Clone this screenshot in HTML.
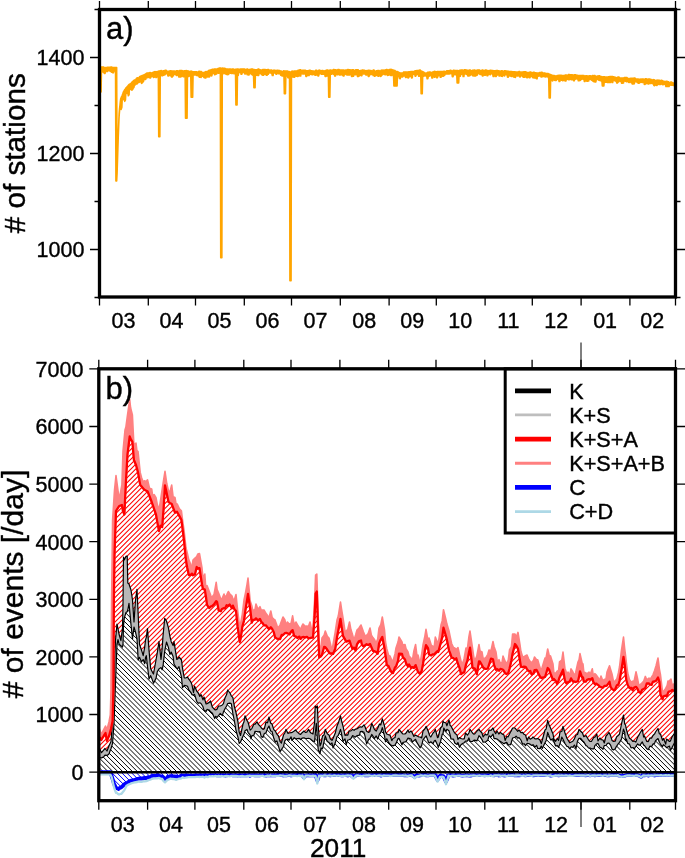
<!DOCTYPE html>
<html><head><meta charset="utf-8"><title>chart</title><style>html,body{margin:0;padding:0;background:#fff}svg{display:block}svg text{font-family:"Liberation Sans",sans-serif;stroke:#000;stroke-width:0.4px}</style></head><body>
<svg width="685" height="858" viewBox="0 0 685 858" stroke-linecap="butt">
<defs>
<clipPath id="ca"><rect x="99.5" y="9.5" width="576.0" height="287.5"/></clipPath>
<clipPath id="cb"><rect x="98.8" y="368.8" width="576.7" height="431.9"/></clipPath>
</defs>
<rect width="685" height="858" fill="#fff"/>
<g clip-path="url(#ca)"><path d="M99.5 67.7 L99.9 67.7 L100.3 67.7 L100.7 67.7 L101.1 67.0 L101.5 67.0 L101.9 67.0 L102.3 67.0 L102.7 67.1 L103.1 67.1 L103.5 67.1 L103.9 67.1 L104.3 67.8 L104.7 67.8 L105.1 67.8 L105.5 67.8 L105.9 67.4 L106.3 67.4 L106.7 67.4 L107.1 67.4 L107.5 67.2 L107.9 67.2 L108.3 67.2 L108.7 67.2 L109.1 67.3 L109.5 67.3 L109.9 67.3 L110.3 67.3 L110.7 67.1 L111.1 67.1 L111.5 67.1 L111.9 67.1 L112.3 67.4 L112.7 67.4 L113.1 67.4 L113.5 67.4 L113.9 67.5 L114.3 67.5 L114.7 67.5 L115.1 67.6 L115.5 67.5 L115.9 67.5 L116.3 67.5 L116.7 67.5 L117.1 170.5 L117.5 158.5 L117.9 146.0 L118.3 133.5 L118.7 123.7 L119.1 113.9 L119.5 108.9 L119.9 105.5 L120.3 101.5 L120.7 98.7 L121.1 97.7 L121.5 96.7 L121.9 96.0 L122.3 95.0 L122.7 94.0 L123.1 93.1 L123.5 91.6 L123.9 90.9 L124.3 90.3 L124.7 89.6 L125.1 89.3 L125.5 88.6 L125.9 88.0 L126.3 87.5 L126.7 87.2 L127.1 86.8 L127.5 86.4 L127.9 86.0 L128.3 85.3 L128.7 84.9 L129.1 84.5 L129.5 84.1 L129.9 84.4 L130.3 84.0 L130.7 83.7 L131.1 83.3 L131.5 82.5 L131.9 82.1 L132.3 81.8 L132.7 81.4 L133.1 81.1 L133.5 80.7 L133.9 80.4 L134.3 80.1 L134.7 80.3 L135.1 80.0 L135.5 79.8 L135.9 79.6 L136.3 78.4 L136.7 78.2 L137.1 78.0 L137.5 77.7 L137.9 78.3 L138.3 78.1 L138.7 77.8 L139.1 77.6 L139.5 76.7 L139.9 76.5 L140.3 76.3 L140.7 76.1 L141.1 76.1 L141.5 75.9 L141.9 75.7 L142.3 75.5 L142.7 75.4 L143.1 75.2 L143.5 75.1 L143.9 74.9 L144.3 74.7 L144.7 74.5 L145.1 74.3 L145.5 74.2 L145.9 73.6 L146.3 73.4 L146.7 73.2 L147.1 73.0 L147.5 73.1 L147.9 73.0 L148.3 72.9 L148.7 72.9 L149.1 72.8 L149.5 72.7 L149.9 72.6 L150.3 72.5 L150.7 73.0 L151.1 73.0 L151.5 72.9 L151.9 72.8 L152.3 72.6 L152.7 72.5 L153.1 72.4 L153.5 72.3 L153.9 71.9 L154.3 71.8 L154.7 71.7 L155.1 71.6 L155.5 71.9 L155.9 71.8 L156.3 71.7 L156.7 71.7 L157.1 71.6 L157.5 71.6 L157.9 71.6 L158.3 71.5 L158.7 71.0 L159.1 71.0 L159.5 71.0 L159.9 71.0 L160.3 70.7 L160.7 70.7 L161.1 70.6 L161.5 70.6 L161.9 71.1 L162.3 71.1 L162.7 71.0 L163.1 71.0 L163.5 70.7 L163.9 70.7 L164.3 70.7 L164.7 70.6 L165.1 70.3 L165.5 70.3 L165.9 70.3 L166.3 70.3 L166.7 71.3 L167.1 71.3 L167.5 71.3 L167.9 71.3 L168.3 71.3 L168.7 71.3 L169.1 71.3 L169.5 71.3 L169.9 70.8 L170.3 70.8 L170.7 70.8 L171.1 70.8 L171.5 70.9 L171.9 70.9 L172.3 70.9 L172.7 70.9 L173.1 71.0 L173.5 71.0 L173.9 71.0 L174.3 71.0 L174.7 71.2 L175.1 71.2 L175.5 71.2 L175.9 71.2 L176.3 70.8 L176.7 70.8 L177.1 70.8 L177.5 70.8 L177.9 70.9 L178.3 70.9 L178.7 70.9 L179.1 70.9 L179.5 70.5 L179.9 70.5 L180.3 70.5 L180.7 70.6 L181.1 70.6 L181.5 70.6 L181.9 70.6 L182.3 70.7 L182.7 71.0 L183.1 71.0 L183.5 71.0 L183.9 71.0 L184.3 70.7 L184.7 70.8 L185.1 70.8 L185.5 70.8 L185.9 70.6 L186.3 70.6 L186.7 70.7 L187.1 70.7 L187.5 71.0 L187.9 71.1 L188.3 71.1 L188.7 71.1 L189.1 71.5 L189.5 71.5 L189.9 71.5 L190.3 71.6 L190.7 71.1 L191.1 71.1 L191.5 71.2 L191.9 71.2 L192.3 71.8 L192.7 71.8 L193.1 71.8 L193.5 71.8 L193.9 71.7 L194.3 71.7 L194.7 71.7 L195.1 71.8 L195.5 71.7 L195.9 71.7 L196.3 71.8 L196.7 71.8 L197.1 72.0 L197.5 72.1 L197.9 72.1 L198.3 72.1 L198.7 71.3 L199.1 71.3 L199.5 71.3 L199.9 71.4 L200.3 71.5 L200.7 71.5 L201.1 71.6 L201.5 71.6 L201.9 72.4 L202.3 72.4 L202.7 72.5 L203.1 72.5 L203.5 72.6 L203.9 72.6 L204.3 72.6 L204.7 72.7 L205.1 71.8 L205.5 71.7 L205.9 71.6 L206.3 71.4 L206.7 72.0 L207.1 71.8 L207.5 71.7 L207.9 71.5 L208.3 70.6 L208.7 70.5 L209.1 70.4 L209.5 70.2 L209.9 70.2 L210.3 70.0 L210.7 69.9 L211.1 69.8 L211.5 69.6 L211.9 69.4 L212.3 69.3 L212.7 69.3 L213.1 69.4 L213.5 69.3 L213.9 69.2 L214.3 69.1 L214.7 69.1 L215.1 69.0 L215.5 68.9 L215.9 68.9 L216.3 69.3 L216.7 69.2 L217.1 69.1 L217.5 69.0 L217.9 68.5 L218.3 68.4 L218.7 68.3 L219.1 68.2 L219.5 68.0 L219.9 68.0 L220.3 68.0 L220.7 68.1 L221.1 68.3 L221.5 68.3 L221.9 68.3 L222.3 68.4 L222.7 68.1 L223.1 68.2 L223.5 68.2 L223.9 68.3 L224.3 68.3 L224.7 68.3 L225.1 68.4 L225.5 68.4 L225.9 68.9 L226.3 68.9 L226.7 68.9 L227.1 69.0 L227.5 69.1 L227.9 69.1 L228.3 69.2 L228.7 69.2 L229.1 69.0 L229.5 69.0 L229.9 69.0 L230.3 69.0 L230.7 69.2 L231.1 69.2 L231.5 69.2 L231.9 69.2 L232.3 68.9 L232.7 68.9 L233.1 68.9 L233.5 68.9 L233.9 69.5 L234.3 69.5 L234.7 69.5 L235.1 69.5 L235.5 69.2 L235.9 69.2 L236.3 69.2 L236.7 69.2 L237.1 69.0 L237.5 69.0 L237.9 69.0 L238.3 69.0 L238.7 69.3 L239.1 69.3 L239.5 69.3 L239.9 69.3 L240.3 69.0 L240.7 69.0 L241.1 69.0 L241.5 69.0 L241.9 69.1 L242.3 69.1 L242.7 69.1 L243.1 69.1 L243.5 68.9 L243.9 68.9 L244.3 68.9 L244.7 68.9 L245.1 69.6 L245.5 69.6 L245.9 69.6 L246.3 69.6 L246.7 69.1 L247.1 69.1 L247.5 69.1 L247.9 69.1 L248.3 69.8 L248.7 69.8 L249.1 69.8 L249.5 69.8 L249.9 69.2 L250.3 69.2 L250.7 69.2 L251.1 69.2 L251.5 69.0 L251.9 69.0 L252.3 69.0 L252.7 69.0 L253.1 69.6 L253.5 69.6 L253.9 69.6 L254.3 69.6 L254.7 69.7 L255.1 69.7 L255.5 69.7 L255.9 69.7 L256.3 69.8 L256.7 69.8 L257.1 69.9 L257.5 69.9 L257.9 69.1 L258.3 69.1 L258.7 69.1 L259.1 69.2 L259.5 69.8 L259.9 69.8 L260.3 69.8 L260.7 69.9 L261.1 69.9 L261.5 69.9 L261.9 70.0 L262.3 70.0 L262.7 69.4 L263.1 69.4 L263.5 69.4 L263.9 69.5 L264.3 69.6 L264.7 69.6 L265.1 69.6 L265.5 69.6 L265.9 69.8 L266.3 69.8 L266.7 69.8 L267.1 69.8 L267.5 69.5 L267.9 69.5 L268.3 69.5 L268.7 69.5 L269.1 70.1 L269.5 70.2 L269.9 70.2 L270.3 70.2 L270.7 70.1 L271.1 70.1 L271.5 70.1 L271.9 70.2 L272.3 70.4 L272.7 70.4 L273.1 70.5 L273.5 70.5 L273.9 70.1 L274.3 70.2 L274.7 70.2 L275.1 70.3 L275.5 70.4 L275.9 70.4 L276.3 70.4 L276.7 70.5 L277.1 70.2 L277.5 70.2 L277.9 70.3 L278.3 70.3 L278.7 70.5 L279.1 70.5 L279.5 70.6 L279.9 70.6 L280.3 71.1 L280.7 71.1 L281.1 71.1 L281.5 71.2 L281.9 71.4 L282.3 71.5 L282.7 71.5 L283.1 71.6 L283.5 70.8 L283.9 70.8 L284.3 70.9 L284.7 70.9 L285.1 70.9 L285.5 70.9 L285.9 70.9 L286.3 71.0 L286.7 71.0 L287.1 71.1 L287.5 71.1 L287.9 71.2 L288.3 71.6 L288.7 71.6 L289.1 71.6 L289.5 71.7 L289.9 72.1 L290.3 72.0 L290.7 72.0 L291.1 71.9 L291.5 71.3 L291.9 71.2 L292.3 71.2 L292.7 71.1 L293.1 71.3 L293.5 71.3 L293.9 71.2 L294.3 71.1 L294.7 71.1 L295.1 71.1 L295.5 71.0 L295.9 70.9 L296.3 71.2 L296.7 71.1 L297.1 71.1 L297.5 71.0 L297.9 70.3 L298.3 70.2 L298.7 70.2 L299.1 70.1 L299.5 69.9 L299.9 69.8 L300.3 69.8 L300.7 69.8 L301.1 70.3 L301.5 70.4 L301.9 70.4 L302.3 70.4 L302.7 70.2 L303.1 70.3 L303.5 70.3 L303.9 70.3 L304.3 70.2 L304.7 70.2 L305.1 70.3 L305.5 70.3 L305.9 70.8 L306.3 70.8 L306.7 70.8 L307.1 70.8 L307.5 70.7 L307.9 70.7 L308.3 70.8 L308.7 70.8 L309.1 70.2 L309.5 70.2 L309.9 70.2 L310.3 70.2 L310.7 70.7 L311.1 70.7 L311.5 70.7 L311.9 70.7 L312.3 71.0 L312.7 71.0 L313.1 71.0 L313.5 71.0 L313.9 71.2 L314.3 71.2 L314.7 71.2 L315.1 71.2 L315.5 70.3 L315.9 70.3 L316.3 70.2 L316.7 70.2 L317.1 71.0 L317.5 71.0 L317.9 71.0 L318.3 71.0 L318.7 70.2 L319.1 70.2 L319.5 70.2 L319.9 70.1 L320.3 70.8 L320.7 70.8 L321.1 70.7 L321.5 70.7 L321.9 70.6 L322.3 70.6 L322.7 70.6 L323.1 70.6 L323.5 70.9 L323.9 70.9 L324.3 70.9 L324.7 70.9 L325.1 70.5 L325.5 70.5 L325.9 70.5 L326.3 70.5 L326.7 69.9 L327.1 69.9 L327.5 69.9 L327.9 69.9 L328.3 70.4 L328.7 70.4 L329.1 70.4 L329.5 70.4 L329.9 70.0 L330.3 69.9 L330.7 69.9 L331.1 69.9 L331.5 70.5 L331.9 70.5 L332.3 70.4 L332.7 70.4 L333.1 69.6 L333.5 69.6 L333.9 69.6 L334.3 69.6 L334.7 69.8 L335.1 69.8 L335.5 69.8 L335.9 69.8 L336.3 70.1 L336.7 70.1 L337.1 70.1 L337.5 70.1 L337.9 69.5 L338.3 69.5 L338.7 69.5 L339.1 69.5 L339.5 70.0 L339.9 70.0 L340.3 70.0 L340.7 70.0 L341.1 70.0 L341.5 70.0 L341.9 70.0 L342.3 70.1 L342.7 70.1 L343.1 70.1 L343.5 70.1 L343.9 70.1 L344.3 70.3 L344.7 70.3 L345.1 70.3 L345.5 70.3 L345.9 69.9 L346.3 69.9 L346.7 69.9 L347.1 69.9 L347.5 69.6 L347.9 69.6 L348.3 69.6 L348.7 69.7 L349.1 69.8 L349.5 69.8 L349.9 69.8 L350.3 69.8 L350.7 70.0 L351.1 70.0 L351.5 70.0 L351.9 70.0 L352.3 69.7 L352.7 69.7 L353.1 69.7 L353.5 69.7 L353.9 70.4 L354.3 70.4 L354.7 70.4 L355.1 70.4 L355.5 69.8 L355.9 69.8 L356.3 69.8 L356.7 69.8 L357.1 69.8 L357.5 69.8 L357.9 69.8 L358.3 69.8 L358.7 70.7 L359.1 70.7 L359.5 70.7 L359.9 70.7 L360.3 70.6 L360.7 70.6 L361.1 70.6 L361.5 70.6 L361.9 70.1 L362.3 70.1 L362.7 70.1 L363.1 70.1 L363.5 70.2 L363.9 70.2 L364.3 70.2 L364.7 70.3 L365.1 70.8 L365.5 70.8 L365.9 70.8 L366.3 70.8 L366.7 70.6 L367.1 70.6 L367.5 70.6 L367.9 70.6 L368.3 70.3 L368.7 70.3 L369.1 70.3 L369.5 70.3 L369.9 70.5 L370.3 70.5 L370.7 70.5 L371.1 70.5 L371.5 70.9 L371.9 71.0 L372.3 71.0 L372.7 71.0 L373.1 70.1 L373.5 70.1 L373.9 70.1 L374.3 70.2 L374.7 71.2 L375.1 71.2 L375.5 71.2 L375.9 71.2 L376.3 70.8 L376.7 70.8 L377.1 70.8 L377.5 70.8 L377.9 70.4 L378.3 70.4 L378.7 70.4 L379.1 70.5 L379.5 71.1 L379.9 71.1 L380.3 71.1 L380.7 71.0 L381.1 70.2 L381.5 70.2 L381.9 70.1 L382.3 70.0 L382.7 70.3 L383.1 70.2 L383.5 70.2 L383.9 70.1 L384.3 70.2 L384.7 70.2 L385.1 70.1 L385.5 70.0 L385.9 69.7 L386.3 69.6 L386.7 69.5 L387.1 69.5 L387.5 70.1 L387.9 70.0 L388.3 69.9 L388.7 69.9 L389.1 69.6 L389.5 69.6 L389.9 69.5 L390.3 69.6 L390.7 69.2 L391.1 69.3 L391.5 69.5 L391.9 69.6 L392.3 69.8 L392.7 69.9 L393.1 70.0 L393.5 70.2 L393.9 70.2 L394.3 70.4 L394.7 70.5 L395.1 70.6 L395.5 71.3 L395.9 71.4 L396.3 71.6 L396.7 71.7 L397.1 71.5 L397.5 71.6 L397.9 71.8 L398.3 71.9 L398.7 72.4 L399.1 72.5 L399.5 72.7 L399.9 72.8 L400.3 73.1 L400.7 73.0 L401.1 73.0 L401.5 73.0 L401.9 73.0 L402.3 72.9 L402.7 72.9 L403.1 72.9 L403.5 72.1 L403.9 72.0 L404.3 72.0 L404.7 71.9 L405.1 72.1 L405.5 72.1 L405.9 72.0 L406.3 72.0 L406.7 72.0 L407.1 72.0 L407.5 72.0 L407.9 71.9 L408.3 71.9 L408.7 71.8 L409.1 71.8 L409.5 71.7 L409.9 71.7 L410.3 71.7 L410.7 71.6 L411.1 71.6 L411.5 71.5 L411.9 71.5 L412.3 71.4 L412.7 71.4 L413.1 71.6 L413.5 71.5 L413.9 71.5 L414.3 71.4 L414.7 70.9 L415.1 70.8 L415.5 70.8 L415.9 70.7 L416.3 70.7 L416.7 70.6 L417.1 70.6 L417.5 70.5 L417.9 70.5 L418.3 70.4 L418.7 70.4 L419.1 70.3 L419.5 70.0 L419.9 70.0 L420.3 70.1 L420.7 70.3 L421.1 71.0 L421.5 71.2 L421.9 71.4 L422.3 71.6 L422.7 71.6 L423.1 71.8 L423.5 72.0 L423.9 72.2 L424.3 72.9 L424.7 73.1 L425.1 73.2 L425.5 73.2 L425.9 73.0 L426.3 73.0 L426.7 73.0 L427.1 72.9 L427.5 72.3 L427.9 72.2 L428.3 72.2 L428.7 72.2 L429.1 72.1 L429.5 72.1 L429.9 72.1 L430.3 72.0 L430.7 72.5 L431.1 72.5 L431.5 72.4 L431.9 72.4 L432.3 72.1 L432.7 72.1 L433.1 72.0 L433.5 72.0 L433.9 71.4 L434.3 71.4 L434.7 71.3 L435.1 71.3 L435.5 71.9 L435.9 71.8 L436.3 71.8 L436.7 71.8 L437.1 71.5 L437.5 71.4 L437.9 71.4 L438.3 71.4 L438.7 71.7 L439.1 71.7 L439.5 71.6 L439.9 71.6 L440.3 71.5 L440.7 71.5 L441.1 71.5 L441.5 71.5 L441.9 71.6 L442.3 71.6 L442.7 71.6 L443.1 71.6 L443.5 71.3 L443.9 71.3 L444.3 71.3 L444.7 71.3 L445.1 71.5 L445.5 71.4 L445.9 71.4 L446.3 71.4 L446.7 70.7 L447.1 70.7 L447.5 70.7 L447.9 70.7 L448.3 70.7 L448.7 70.7 L449.1 70.7 L449.5 70.7 L449.9 70.4 L450.3 70.3 L450.7 70.3 L451.1 70.3 L451.5 71.1 L451.9 71.1 L452.3 71.1 L452.7 71.0 L453.1 70.3 L453.5 70.3 L453.9 70.3 L454.3 70.2 L454.7 70.6 L455.1 70.6 L455.5 70.6 L455.9 70.6 L456.3 70.5 L456.7 70.5 L457.1 70.5 L457.5 70.4 L457.9 70.7 L458.3 70.7 L458.7 70.7 L459.1 70.7 L459.5 70.2 L459.9 70.2 L460.3 70.2 L460.7 70.2 L461.1 69.9 L461.5 69.9 L461.9 69.9 L462.3 69.9 L462.7 70.2 L463.1 70.2 L463.5 70.2 L463.9 70.2 L464.3 69.8 L464.7 69.8 L465.1 69.8 L465.5 69.8 L465.9 70.1 L466.3 70.1 L466.7 70.1 L467.1 70.1 L467.5 70.4 L467.9 70.4 L468.3 70.4 L468.7 70.4 L469.1 69.9 L469.5 69.9 L469.9 69.9 L470.3 69.9 L470.7 70.8 L471.1 70.8 L471.5 70.8 L471.9 70.8 L472.3 70.3 L472.7 70.3 L473.1 70.3 L473.5 70.3 L473.9 70.1 L474.3 70.1 L474.7 70.1 L475.1 70.1 L475.5 70.6 L475.9 70.6 L476.3 70.6 L476.7 70.6 L477.1 69.9 L477.5 69.9 L477.9 69.9 L478.3 69.9 L478.7 70.1 L479.1 70.1 L479.5 70.1 L479.9 70.1 L480.3 70.7 L480.7 70.8 L481.1 70.8 L481.5 70.8 L481.9 70.1 L482.3 70.1 L482.7 70.1 L483.1 70.1 L483.5 70.6 L483.9 70.6 L484.3 70.6 L484.7 70.7 L485.1 70.0 L485.5 70.0 L485.9 70.0 L486.3 70.0 L486.7 70.5 L487.1 70.5 L487.5 70.5 L487.9 70.5 L488.3 70.7 L488.7 70.7 L489.1 70.7 L489.5 70.7 L489.9 70.3 L490.3 70.3 L490.7 70.3 L491.1 70.3 L491.5 70.4 L491.9 70.4 L492.3 70.4 L492.7 70.4 L493.1 70.7 L493.5 70.7 L493.9 70.7 L494.3 70.7 L494.7 70.8 L495.1 70.8 L495.5 70.8 L495.9 70.8 L496.3 70.4 L496.7 70.4 L497.1 70.4 L497.5 70.4 L497.9 70.7 L498.3 70.7 L498.7 70.7 L499.1 70.7 L499.5 71.3 L499.9 71.3 L500.3 71.3 L500.7 71.3 L501.1 70.7 L501.5 70.7 L501.9 70.7 L502.3 70.7 L502.7 71.2 L503.1 71.2 L503.5 71.3 L503.9 71.3 L504.3 70.7 L504.7 70.7 L505.1 70.8 L505.5 70.8 L505.9 71.1 L506.3 71.1 L506.7 71.1 L507.1 71.1 L507.5 71.2 L507.9 71.2 L508.3 71.2 L508.7 71.3 L509.1 71.4 L509.5 71.4 L509.9 71.4 L510.3 71.4 L510.7 71.6 L511.1 71.6 L511.5 71.6 L511.9 71.6 L512.3 71.7 L512.7 71.7 L513.1 71.8 L513.5 71.8 L513.9 71.7 L514.3 71.7 L514.7 71.7 L515.1 71.8 L515.5 71.9 L515.9 71.9 L516.3 71.9 L516.7 71.9 L517.1 72.0 L517.5 72.1 L517.9 72.1 L518.3 72.1 L518.7 71.6 L519.1 71.6 L519.5 71.6 L519.9 71.6 L520.3 72.1 L520.7 72.2 L521.1 72.2 L521.5 72.2 L521.9 71.9 L522.3 72.0 L522.7 72.0 L523.1 72.0 L523.5 71.8 L523.9 71.8 L524.3 71.8 L524.7 71.9 L525.1 71.8 L525.5 71.8 L525.9 71.9 L526.3 71.9 L526.7 72.5 L527.1 72.5 L527.5 72.6 L527.9 72.6 L528.3 72.5 L528.7 72.5 L529.1 72.5 L529.5 72.6 L529.9 72.0 L530.3 72.1 L530.7 72.1 L531.1 72.1 L531.5 72.7 L531.9 72.7 L532.3 72.7 L532.7 72.7 L533.1 72.2 L533.5 72.2 L533.9 72.3 L534.3 72.3 L534.7 72.7 L535.1 72.7 L535.5 72.7 L535.9 72.7 L536.3 72.9 L536.7 72.9 L537.1 72.9 L537.5 72.9 L537.9 73.0 L538.3 73.0 L538.7 73.0 L539.1 73.0 L539.5 72.5 L539.9 72.5 L540.3 72.5 L540.7 72.5 L541.1 72.3 L541.5 72.3 L541.9 72.3 L542.3 72.3 L542.7 72.9 L543.1 72.9 L543.5 72.9 L543.9 72.9 L544.3 73.1 L544.7 73.1 L545.1 73.1 L545.5 73.3 L545.9 73.4 L546.3 73.5 L546.7 73.6 L547.1 73.7 L547.5 73.4 L547.9 73.5 L548.3 73.6 L548.7 73.8 L549.1 74.1 L549.5 74.2 L549.9 74.3 L550.3 74.5 L550.7 74.7 L551.1 74.8 L551.5 75.0 L551.9 75.1 L552.3 75.4 L552.7 75.5 L553.1 75.6 L553.5 75.7 L553.9 75.5 L554.3 75.6 L554.7 75.7 L555.1 75.8 L555.5 76.1 L555.9 76.1 L556.3 76.1 L556.7 76.1 L557.1 75.5 L557.5 75.5 L557.9 75.4 L558.3 75.4 L558.7 75.3 L559.1 75.2 L559.5 75.2 L559.9 75.2 L560.3 75.2 L560.7 75.2 L561.1 75.2 L561.5 75.2 L561.9 75.6 L562.3 75.5 L562.7 75.5 L563.1 75.5 L563.5 75.6 L563.9 75.6 L564.3 75.6 L564.7 75.5 L565.1 75.1 L565.5 75.1 L565.9 75.0 L566.3 75.0 L566.7 75.2 L567.1 75.2 L567.5 75.2 L567.9 75.1 L568.3 74.6 L568.7 74.5 L569.1 74.5 L569.5 74.5 L569.9 74.8 L570.3 74.8 L570.7 74.8 L571.1 74.9 L571.5 74.8 L571.9 74.8 L572.3 74.8 L572.7 74.9 L573.1 74.9 L573.5 74.9 L573.9 74.9 L574.3 74.9 L574.7 74.7 L575.1 74.7 L575.5 74.8 L575.9 74.8 L576.3 75.2 L576.7 75.3 L577.1 75.3 L577.5 75.3 L577.9 75.4 L578.3 75.4 L578.7 75.4 L579.1 75.4 L579.5 75.4 L579.9 75.4 L580.3 75.5 L580.7 75.5 L581.1 75.6 L581.5 75.6 L581.9 75.6 L582.3 75.7 L582.7 75.4 L583.1 75.4 L583.5 75.4 L583.9 75.5 L584.3 75.9 L584.7 75.9 L585.1 75.9 L585.5 75.9 L585.9 75.7 L586.3 75.7 L586.7 75.7 L587.1 75.7 L587.5 76.1 L587.9 76.1 L588.3 76.1 L588.7 76.1 L589.1 75.7 L589.5 75.7 L589.9 75.7 L590.3 75.7 L590.7 76.0 L591.1 76.1 L591.5 76.1 L591.9 76.1 L592.3 75.6 L592.7 75.6 L593.1 75.7 L593.5 75.7 L593.9 75.6 L594.3 75.6 L594.7 75.6 L595.1 75.6 L595.5 76.5 L595.9 76.5 L596.3 76.5 L596.7 76.6 L597.1 76.0 L597.5 76.0 L597.9 76.1 L598.3 76.1 L598.7 75.8 L599.1 75.8 L599.5 75.8 L599.9 75.8 L600.3 76.4 L600.7 76.5 L601.1 76.5 L601.5 76.5 L601.9 76.8 L602.3 76.8 L602.7 76.9 L603.1 76.9 L603.5 76.7 L603.9 76.8 L604.3 76.8 L604.7 76.8 L605.1 77.0 L605.5 77.1 L605.9 77.1 L606.3 77.1 L606.7 77.1 L607.1 77.1 L607.5 77.1 L607.9 77.1 L608.3 76.7 L608.7 76.7 L609.1 76.7 L609.5 76.7 L609.9 76.5 L610.3 76.6 L610.7 76.6 L611.1 76.6 L611.5 76.5 L611.9 76.5 L612.3 76.5 L612.7 76.6 L613.1 76.8 L613.5 76.8 L613.9 76.9 L614.3 76.9 L614.7 77.3 L615.1 77.3 L615.5 77.3 L615.9 77.4 L616.3 77.7 L616.7 77.7 L617.1 77.7 L617.5 77.8 L617.9 76.9 L618.3 76.9 L618.7 77.0 L619.1 77.0 L619.5 77.8 L619.9 77.9 L620.3 77.9 L620.7 77.9 L621.1 77.9 L621.5 77.9 L621.9 78.0 L622.3 78.0 L622.7 77.9 L623.1 78.0 L623.5 78.0 L623.9 78.0 L624.3 77.5 L624.7 77.5 L625.1 77.6 L625.5 77.6 L625.9 77.5 L626.3 77.6 L626.7 77.6 L627.1 77.6 L627.5 78.3 L627.9 78.4 L628.3 78.4 L628.7 78.4 L629.1 78.4 L629.5 78.4 L629.9 78.4 L630.3 78.5 L630.7 78.2 L631.1 78.2 L631.5 78.2 L631.9 78.3 L632.3 78.3 L632.7 78.3 L633.1 78.3 L633.5 78.3 L633.9 78.0 L634.3 78.0 L634.7 78.1 L635.1 78.1 L635.5 79.1 L635.9 79.1 L636.3 79.1 L636.7 79.1 L637.1 79.0 L637.5 79.0 L637.9 79.0 L638.3 79.1 L638.7 79.2 L639.1 79.2 L639.5 79.2 L639.9 79.3 L640.3 79.1 L640.7 79.2 L641.1 79.2 L641.5 79.2 L641.9 78.9 L642.3 78.9 L642.7 78.9 L643.1 78.9 L643.5 79.3 L643.9 79.3 L644.3 79.4 L644.7 79.4 L645.1 78.8 L645.5 78.8 L645.9 78.8 L646.3 78.8 L646.7 79.3 L647.1 79.3 L647.5 79.3 L647.9 79.4 L648.3 79.0 L648.7 79.0 L649.1 79.0 L649.5 79.0 L649.9 79.2 L650.3 79.2 L650.7 79.3 L651.1 79.3 L651.5 79.9 L651.9 79.9 L652.3 80.0 L652.7 80.0 L653.1 79.6 L653.5 79.7 L653.9 79.7 L654.3 79.8 L654.7 80.3 L655.1 80.4 L655.5 80.4 L655.9 80.5 L656.3 80.2 L656.7 80.3 L657.1 80.3 L657.5 80.4 L657.9 80.1 L658.3 80.2 L658.7 80.3 L659.1 80.3 L659.5 80.3 L659.9 80.4 L660.3 80.4 L660.7 80.5 L661.1 80.3 L661.5 80.3 L661.9 80.4 L662.3 80.4 L662.7 81.1 L663.1 81.1 L663.5 81.2 L663.9 81.2 L664.3 81.5 L664.7 81.6 L665.1 81.7 L665.5 81.7 L665.9 81.2 L666.3 81.2 L666.7 81.3 L667.1 81.3 L667.5 81.6 L667.9 81.7 L668.3 81.8 L668.7 81.8 L669.1 82.4 L669.5 82.4 L669.9 82.5 L670.3 82.5 L670.7 82.0 L671.1 82.1 L671.5 82.1 L671.9 82.2 L672.3 82.8 L672.7 82.8 L673.1 82.9 L673.5 83.0 L673.9 82.9 L674.3 83.0 L674.7 83.0 L675.1 83.1 L675.5 82.8 L675.5 88.4 L675.1 85.7 L674.7 85.6 L674.3 85.6 L673.9 85.5 L673.5 85.5 L673.1 85.4 L672.7 85.2 L672.3 85.2 L671.9 85.1 L671.5 85.3 L671.1 85.3 L670.7 85.2 L670.3 85.0 L669.9 84.9 L669.5 84.9 L669.1 86.6 L668.7 86.5 L668.3 86.5 L667.9 86.4 L667.5 86.3 L667.1 86.2 L666.7 86.6 L666.3 86.5 L665.9 86.5 L665.5 84.6 L665.1 84.6 L664.7 84.5 L664.3 84.1 L663.9 84.1 L663.5 84.0 L663.1 84.8 L662.7 84.7 L662.3 84.6 L661.9 83.8 L661.5 83.8 L661.1 83.7 L660.7 84.4 L660.3 84.3 L659.9 84.2 L659.5 84.6 L659.1 84.6 L658.7 84.5 L658.3 83.4 L657.9 83.4 L657.5 83.3 L657.1 85.4 L656.7 85.4 L656.3 85.3 L655.9 85.1 L655.5 85.1 L655.1 85.0 L654.7 85.7 L654.3 85.7 L653.9 85.6 L653.5 83.8 L653.1 83.7 L652.7 83.7 L652.3 83.2 L651.9 83.2 L651.5 83.1 L651.1 83.6 L650.7 83.5 L650.3 83.5 L649.9 83.4 L649.5 83.4 L649.1 83.4 L648.7 84.0 L648.3 83.9 L647.9 83.9 L647.5 82.9 L647.1 82.9 L646.7 82.9 L646.3 83.8 L645.9 83.8 L645.5 83.8 L645.1 84.4 L644.7 84.4 L644.3 84.3 L643.9 82.2 L643.5 82.2 L643.1 82.1 L642.7 82.5 L642.3 82.5 L641.9 82.5 L641.5 82.2 L641.1 82.2 L640.7 82.1 L640.3 82.5 L639.9 82.5 L639.5 82.5 L639.1 83.3 L638.7 83.3 L638.3 83.3 L637.9 82.5 L637.5 82.5 L637.1 82.4 L636.7 81.8 L636.3 81.8 L635.9 81.8 L635.5 81.5 L635.1 81.5 L634.7 81.5 L634.3 83.8 L633.9 83.8 L633.5 83.8 L633.1 84.1 L632.7 84.1 L632.3 84.1 L631.9 82.7 L631.5 82.7 L631.1 82.7 L630.7 81.6 L630.3 81.6 L629.9 81.5 L629.5 82.5 L629.1 82.5 L628.7 82.5 L628.3 81.4 L627.9 81.4 L627.5 81.3 L627.1 81.7 L626.7 81.7 L626.3 81.7 L625.9 81.3 L625.5 81.3 L625.1 81.2 L624.7 80.9 L624.3 80.9 L623.9 80.9 L623.5 83.0 L623.1 83.0 L622.7 83.0 L622.3 83.3 L621.9 83.2 L621.5 83.2 L621.1 81.3 L620.7 81.3 L620.3 81.2 L619.9 81.1 L619.5 81.1 L619.1 81.1 L618.7 81.9 L618.3 81.8 L617.9 81.8 L617.5 83.1 L617.1 83.1 L616.7 83.0 L616.3 81.2 L615.9 81.2 L615.5 81.1 L615.1 80.7 L614.7 80.7 L614.3 80.6 L613.9 80.5 L613.5 80.4 L613.1 80.4 L612.7 82.6 L612.3 82.6 L611.9 82.5 L611.5 79.8 L611.1 79.7 L610.7 79.7 L610.3 82.6 L609.9 82.6 L609.5 82.6 L609.1 82.4 L608.7 82.4 L608.3 82.3 L607.9 82.4 L607.5 82.4 L607.1 82.4 L606.7 82.2 L606.3 82.2 L605.9 82.2 L605.5 82.2 L605.1 82.2 L604.7 82.2 L604.3 81.1 L603.9 86.0 L603.5 86.0 L603.1 86.0 L602.7 86.0 L602.3 86.0 L601.9 81.0 L601.5 81.0 L601.1 81.0 L600.7 80.6 L600.3 80.6 L599.9 80.6 L599.5 80.3 L599.1 80.3 L598.7 80.3 L598.3 79.4 L597.9 79.4 L597.5 79.3 L597.1 79.6 L596.7 79.5 L596.3 79.5 L595.9 82.0 L595.5 82.0 L595.1 82.0 L594.7 81.8 L594.3 81.8 L593.9 81.8 L593.5 81.2 L593.1 81.1 L592.7 81.1 L592.3 80.2 L591.9 80.2 L591.5 80.2 L591.1 79.5 L590.7 79.4 L590.3 79.4 L589.9 79.1 L589.5 79.0 L589.1 79.0 L588.7 81.1 L588.3 81.1 L587.9 81.1 L587.5 81.2 L587.1 81.2 L586.7 81.2 L586.3 78.6 L585.9 78.6 L585.5 78.6 L585.1 81.5 L584.7 81.5 L584.3 81.4 L583.9 79.2 L583.5 79.2 L583.1 79.2 L582.7 79.1 L582.3 79.0 L581.9 79.0 L581.5 79.4 L581.1 79.4 L580.7 79.4 L580.3 80.5 L579.9 80.5 L579.5 80.5 L579.1 80.8 L578.7 80.8 L578.3 80.8 L577.9 79.1 L577.5 79.1 L577.1 79.1 L576.7 78.4 L576.3 78.4 L575.9 78.4 L575.5 79.3 L575.1 79.3 L574.7 79.3 L574.3 80.7 L573.9 80.7 L573.5 80.7 L573.1 78.4 L572.7 78.3 L572.3 78.3 L571.9 79.8 L571.5 79.8 L571.1 79.7 L570.7 78.7 L570.3 78.7 L569.9 78.7 L569.5 79.7 L569.1 79.7 L568.7 79.8 L568.3 79.0 L567.9 79.1 L567.5 79.1 L567.1 79.6 L566.7 79.6 L566.3 79.6 L565.9 81.1 L565.5 81.1 L565.1 81.1 L564.7 78.8 L564.3 78.8 L563.9 78.9 L563.5 80.6 L563.1 80.6 L562.7 80.7 L562.3 80.2 L561.9 80.2 L561.5 80.3 L561.1 79.0 L560.7 79.0 L560.3 79.1 L559.9 81.4 L559.5 81.4 L559.1 81.5 L558.7 79.6 L558.3 79.6 L557.9 79.6 L557.5 79.1 L557.1 79.1 L556.7 79.1 L556.3 80.4 L555.9 80.4 L555.5 80.4 L555.1 80.4 L554.7 80.3 L554.3 80.2 L553.9 78.6 L553.5 78.5 L553.1 78.4 L552.7 80.9 L552.3 80.8 L551.9 80.6 L551.5 78.7 L551.1 78.6 L550.7 78.5 L550.3 98.0 L549.9 98.0 L549.5 98.0 L549.1 98.0 L548.7 77.9 L548.3 77.8 L547.9 76.5 L547.5 76.4 L547.1 76.2 L546.7 76.7 L546.3 76.6 L545.9 76.5 L545.5 76.9 L545.1 76.8 L544.7 76.8 L544.3 76.5 L543.9 76.5 L543.5 76.5 L543.1 76.6 L542.7 76.6 L542.3 76.6 L541.9 77.1 L541.5 77.1 L541.1 77.1 L540.7 75.9 L540.3 75.9 L539.9 75.9 L539.5 76.1 L539.1 76.1 L538.7 76.1 L538.3 76.2 L537.9 76.2 L537.5 76.2 L537.1 78.8 L536.7 78.8 L536.3 78.8 L535.9 77.7 L535.5 77.7 L535.1 77.7 L534.7 78.1 L534.3 78.1 L533.9 78.0 L533.5 77.7 L533.1 77.7 L532.7 77.7 L532.3 75.7 L531.9 75.7 L531.5 75.7 L531.1 76.7 L530.7 76.6 L530.3 76.6 L529.9 77.8 L529.5 77.7 L529.1 77.7 L528.7 75.7 L528.3 75.7 L527.9 75.6 L527.5 77.7 L527.1 77.7 L526.7 77.7 L526.3 75.2 L525.9 75.2 L525.5 75.2 L525.1 77.2 L524.7 77.1 L524.3 77.1 L523.9 77.3 L523.5 77.3 L523.1 77.3 L522.7 76.2 L522.3 76.2 L521.9 76.1 L521.5 74.7 L521.1 74.7 L520.7 74.7 L520.3 76.9 L519.9 76.9 L519.5 76.8 L519.1 75.2 L518.7 75.2 L518.3 75.2 L517.9 76.0 L517.5 76.0 L517.1 76.0 L516.7 74.7 L516.3 74.7 L515.9 74.7 L515.5 77.4 L515.1 77.3 L514.7 77.3 L514.3 77.0 L513.9 77.0 L513.5 76.9 L513.1 74.4 L512.7 74.4 L512.3 74.4 L511.9 76.5 L511.5 76.4 L511.1 76.4 L510.7 76.1 L510.3 76.1 L509.9 76.0 L509.5 75.4 L509.1 75.4 L508.7 75.4 L508.3 77.2 L507.9 77.2 L507.5 77.1 L507.1 74.8 L506.7 74.8 L506.3 74.8 L505.9 74.2 L505.5 74.2 L505.1 74.2 L504.7 75.9 L504.3 75.8 L503.9 75.8 L503.5 73.8 L503.1 73.8 L502.7 73.7 L502.3 76.4 L501.9 76.3 L501.5 76.3 L501.1 73.7 L500.7 73.7 L500.3 73.7 L499.9 76.1 L499.5 76.1 L499.1 76.1 L498.7 73.6 L498.3 73.6 L497.9 73.6 L497.5 75.0 L497.1 75.0 L496.7 75.0 L496.3 76.4 L495.9 76.4 L495.5 76.4 L495.1 74.2 L494.7 74.2 L494.3 74.2 L493.9 76.6 L493.5 76.6 L493.1 76.5 L492.7 73.9 L492.3 73.9 L491.9 73.9 L491.5 73.6 L491.1 73.6 L490.7 73.5 L490.3 74.7 L489.9 74.6 L489.5 74.6 L489.1 73.7 L488.7 73.7 L488.3 73.7 L487.9 75.7 L487.5 75.7 L487.1 75.7 L486.7 74.2 L486.3 74.2 L485.9 74.2 L485.5 75.2 L485.1 75.2 L484.7 75.2 L484.3 73.7 L483.9 73.7 L483.5 73.7 L483.1 75.9 L482.7 75.9 L482.3 75.9 L481.9 74.6 L481.5 74.5 L481.1 74.5 L480.7 74.5 L480.3 74.4 L479.9 74.4 L479.5 73.8 L479.1 73.8 L478.7 73.8 L478.3 73.3 L477.9 73.3 L477.5 73.3 L477.1 75.3 L476.7 75.3 L476.3 75.3 L475.9 76.0 L475.5 76.0 L475.1 76.0 L474.7 76.0 L474.3 76.0 L473.9 76.0 L473.5 75.8 L473.1 75.8 L472.7 75.8 L472.3 74.1 L471.9 74.1 L471.5 74.1 L471.1 74.9 L470.7 74.9 L470.3 74.9 L469.9 75.8 L469.5 75.8 L469.1 75.8 L468.7 76.1 L468.3 76.1 L467.9 76.1 L467.5 74.6 L467.1 74.6 L466.7 74.6 L466.3 74.1 L465.9 74.1 L465.5 74.1 L465.1 73.2 L464.7 73.2 L464.3 73.2 L463.9 76.6 L463.5 76.6 L463.1 76.6 L462.7 73.1 L462.3 73.1 L461.9 73.1 L461.5 74.4 L461.1 74.4 L460.7 74.4 L460.3 76.3 L459.9 76.3 L459.5 76.3 L459.1 75.6 L458.7 83.0 L458.3 83.0 L457.9 83.0 L457.5 83.0 L457.1 83.0 L456.7 73.5 L456.3 73.5 L455.9 73.5 L455.5 74.8 L455.1 74.8 L454.7 74.8 L454.3 73.5 L453.9 73.6 L453.5 73.6 L453.1 76.7 L452.7 76.7 L452.3 76.7 L451.9 73.6 L451.5 73.6 L451.1 73.6 L450.7 73.6 L450.3 73.7 L449.9 73.7 L449.5 74.0 L449.1 74.0 L448.7 74.0 L448.3 74.0 L447.9 74.0 L447.5 74.0 L447.1 73.9 L446.7 74.0 L446.3 74.0 L445.9 74.0 L445.5 74.0 L445.1 74.0 L444.7 75.4 L444.3 75.4 L443.9 75.4 L443.5 76.3 L443.1 76.3 L442.7 76.3 L442.3 74.9 L441.9 74.9 L441.5 74.9 L441.1 77.2 L440.7 77.3 L440.3 77.3 L439.9 74.2 L439.5 74.2 L439.1 74.2 L438.7 75.8 L438.3 75.8 L437.9 75.9 L437.5 77.7 L437.1 77.7 L436.7 77.8 L436.3 74.7 L435.9 74.8 L435.5 74.8 L435.1 77.1 L434.7 77.2 L434.3 77.2 L433.9 75.0 L433.5 75.1 L433.1 75.1 L432.7 77.9 L432.3 77.9 L431.9 78.0 L431.5 75.7 L431.1 75.7 L430.7 75.8 L430.3 75.4 L429.9 75.4 L429.5 75.5 L429.1 76.3 L428.7 76.3 L428.3 76.4 L427.9 78.7 L427.5 78.7 L427.1 78.8 L426.7 76.0 L426.3 76.0 L425.9 76.1 L425.5 75.6 L425.1 75.7 L424.7 75.5 L424.3 76.1 L423.9 75.9 L423.5 75.7 L423.1 76.7 L422.7 76.5 L422.3 93.8 L421.9 93.8 L421.5 93.8 L421.1 93.8 L420.7 74.3 L420.3 74.1 L419.9 73.9 L419.5 76.2 L419.1 76.2 L418.7 76.3 L418.3 74.3 L417.9 74.4 L417.5 74.4 L417.1 74.5 L416.7 74.6 L416.3 74.6 L415.9 76.1 L415.5 76.2 L415.1 76.2 L414.7 74.0 L414.3 74.0 L413.9 74.1 L413.5 74.3 L413.1 74.4 L412.7 74.4 L412.3 77.8 L411.9 77.8 L411.5 77.9 L411.1 75.3 L410.7 75.4 L410.3 75.4 L409.9 76.4 L409.5 76.5 L409.1 76.5 L408.7 77.8 L408.3 77.9 L407.9 77.9 L407.5 76.5 L407.1 76.6 L406.7 76.6 L406.3 77.5 L405.9 77.5 L405.5 77.5 L405.1 75.1 L404.7 75.2 L404.3 75.2 L403.9 76.1 L403.5 76.1 L403.1 76.1 L402.7 77.0 L402.3 77.1 L401.9 77.1 L401.5 75.5 L401.1 75.6 L400.7 75.6 L400.3 78.7 L399.9 78.7 L399.5 78.5 L399.1 76.6 L398.7 76.4 L398.3 76.3 L397.9 76.5 L397.5 76.4 L397.1 86.0 L396.7 86.0 L396.3 86.0 L395.9 86.0 L395.5 86.0 L395.1 86.0 L394.7 86.0 L394.3 86.0 L393.9 86.0 L393.5 75.4 L393.1 73.4 L392.7 73.2 L392.3 73.1 L391.9 75.6 L391.5 75.5 L391.1 75.3 L390.7 75.4 L390.3 75.3 L389.9 75.2 L389.5 73.3 L389.1 73.4 L388.7 73.5 L388.3 75.3 L387.9 75.3 L387.5 75.4 L387.1 73.2 L386.7 73.2 L386.3 73.3 L385.9 74.7 L385.5 74.7 L385.1 74.8 L384.7 74.4 L384.3 74.5 L383.9 74.5 L383.5 73.8 L383.1 73.9 L382.7 73.9 L382.3 75.0 L381.9 75.1 L381.5 75.2 L381.1 76.2 L380.7 76.3 L380.3 76.4 L379.9 73.9 L379.5 73.9 L379.1 73.9 L378.7 76.2 L378.3 76.2 L377.9 76.2 L377.5 74.1 L377.1 74.1 L376.7 74.1 L376.3 75.5 L375.9 75.5 L375.5 75.5 L375.1 76.2 L374.7 76.2 L374.3 76.2 L373.9 75.6 L373.5 75.6 L373.1 75.6 L372.7 73.6 L372.3 73.6 L371.9 73.6 L371.5 74.6 L371.1 74.6 L370.7 74.6 L370.3 74.7 L369.9 74.7 L369.5 74.7 L369.1 76.4 L368.7 76.4 L368.3 76.4 L367.9 73.5 L367.5 73.4 L367.1 73.4 L366.7 75.1 L366.3 75.1 L365.9 75.1 L365.5 73.8 L365.1 73.8 L364.7 73.8 L364.3 74.0 L363.9 74.0 L363.5 74.0 L363.1 73.6 L362.7 73.6 L362.3 73.6 L361.9 75.7 L361.5 75.7 L361.1 75.7 L360.7 75.1 L360.3 75.1 L359.9 75.1 L359.5 75.9 L359.1 75.9 L358.7 75.8 L358.3 76.6 L357.9 76.6 L357.5 76.6 L357.1 73.1 L356.7 73.1 L356.3 73.1 L355.9 74.8 L355.5 74.8 L355.1 74.8 L354.7 74.1 L354.3 74.1 L353.9 74.1 L353.5 76.3 L353.1 76.3 L352.7 76.3 L352.3 76.4 L351.9 76.4 L351.5 76.4 L351.1 73.2 L350.7 73.2 L350.3 73.2 L349.9 74.9 L349.5 74.9 L349.1 74.9 L348.7 75.1 L348.3 75.1 L347.9 75.1 L347.5 74.9 L347.1 74.9 L346.7 74.9 L346.3 73.5 L345.9 73.5 L345.5 73.4 L345.1 74.6 L344.7 74.6 L344.3 74.6 L343.9 76.0 L343.5 76.0 L343.1 76.0 L342.7 75.1 L342.3 75.1 L341.9 75.1 L341.5 72.7 L341.1 72.7 L340.7 72.7 L340.3 75.1 L339.9 75.1 L339.5 75.1 L339.1 74.5 L338.7 74.5 L338.3 74.5 L337.9 74.7 L337.5 74.8 L337.1 74.8 L336.7 73.8 L336.3 73.8 L335.9 73.8 L335.5 76.0 L335.1 76.0 L334.7 76.1 L334.3 74.3 L333.9 74.3 L333.5 74.3 L333.1 73.6 L332.7 73.6 L332.3 73.6 L331.9 74.2 L331.5 74.2 L331.1 74.2 L330.7 73.5 L330.3 73.5 L329.9 97.3 L329.5 97.3 L329.1 97.3 L328.7 97.3 L328.3 73.3 L327.9 73.3 L327.5 73.3 L327.1 75.9 L326.7 75.9 L326.3 76.0 L325.9 76.4 L325.5 76.4 L325.1 76.4 L324.7 73.7 L324.3 73.7 L323.9 73.7 L323.5 74.3 L323.1 74.3 L322.7 74.3 L322.3 74.2 L321.9 74.3 L321.5 74.3 L321.1 73.8 L320.7 73.8 L320.3 73.8 L319.9 73.7 L319.5 73.8 L319.1 73.8 L318.7 75.9 L318.3 75.9 L317.9 75.9 L317.5 74.3 L317.1 74.3 L316.7 74.3 L316.3 75.1 L315.9 75.2 L315.5 75.2 L315.1 75.1 L314.7 75.1 L314.3 75.1 L313.9 74.0 L313.5 73.9 L313.1 73.9 L312.7 74.7 L312.3 74.7 L311.9 74.7 L311.5 74.4 L311.1 74.4 L310.7 74.4 L310.3 73.6 L309.9 73.5 L309.5 73.5 L309.1 75.6 L308.7 75.5 L308.3 75.5 L307.9 73.4 L307.5 73.4 L307.1 73.4 L306.7 76.5 L306.3 76.5 L305.9 76.5 L305.5 73.5 L305.1 73.5 L304.7 73.5 L304.3 73.9 L303.9 73.9 L303.5 73.9 L303.1 73.9 L302.7 73.9 L302.3 73.8 L301.9 73.2 L301.5 73.2 L301.1 73.2 L300.7 76.1 L300.3 76.1 L299.9 76.1 L299.5 75.1 L299.1 75.1 L298.7 75.2 L298.3 76.3 L297.9 76.4 L297.5 76.5 L297.1 76.1 L296.7 76.2 L296.3 76.2 L295.9 75.0 L295.5 75.1 L295.1 75.1 L294.7 77.2 L294.3 77.2 L293.9 77.3 L293.5 76.9 L293.1 77.0 L292.7 77.0 L292.3 74.3 L291.9 74.3 L291.5 74.4 L291.1 280.7 L290.7 280.7 L290.3 280.7 L289.9 280.7 L289.5 78.1 L289.1 78.1 L288.7 77.8 L288.3 77.8 L287.9 77.7 L287.5 76.2 L287.1 76.1 L286.7 76.1 L286.3 75.1 L285.9 75.0 L285.5 93.8 L285.1 93.8 L284.7 93.8 L284.3 93.8 L283.9 75.2 L283.5 75.1 L283.1 75.1 L282.7 76.1 L282.3 76.1 L281.9 76.0 L281.5 75.3 L281.1 75.3 L280.7 75.2 L280.3 73.7 L279.9 73.6 L279.5 73.6 L279.1 73.8 L278.7 73.8 L278.3 73.7 L277.9 73.5 L277.5 73.5 L277.1 73.4 L276.7 74.2 L276.3 74.2 L275.9 74.1 L275.5 73.2 L275.1 73.1 L274.7 73.1 L274.3 73.1 L273.9 73.1 L273.5 73.0 L273.1 75.6 L272.7 75.6 L272.3 75.6 L271.9 73.5 L271.5 73.4 L271.1 73.4 L270.7 72.7 L270.3 72.7 L269.9 72.6 L269.5 72.9 L269.1 72.9 L268.7 72.9 L268.3 74.2 L267.9 74.2 L267.5 74.2 L267.1 75.3 L266.7 75.2 L266.3 75.2 L265.9 74.6 L265.5 74.6 L265.1 74.6 L264.7 72.8 L264.3 72.8 L263.9 72.8 L263.5 75.3 L263.1 75.3 L262.7 75.3 L262.3 74.8 L261.9 74.7 L261.5 74.7 L261.1 73.6 L260.7 73.6 L260.3 73.6 L259.9 72.8 L259.5 72.8 L259.1 72.8 L258.7 75.5 L258.3 75.5 L257.9 75.5 L257.5 75.3 L257.1 75.3 L256.7 75.3 L256.3 72.6 L255.9 72.6 L255.5 72.6 L255.1 87.7 L254.7 87.7 L254.3 87.7 L253.9 87.7 L253.5 75.7 L253.1 75.7 L252.7 74.8 L252.3 74.8 L251.9 74.8 L251.5 73.7 L251.1 73.7 L250.7 73.7 L250.3 72.2 L249.9 72.1 L249.5 72.1 L249.1 75.0 L248.7 75.0 L248.3 75.0 L247.9 74.7 L247.5 74.7 L247.1 74.7 L246.7 72.5 L246.3 72.5 L245.9 72.5 L245.5 73.9 L245.1 73.9 L244.7 73.9 L244.3 72.6 L243.9 72.6 L243.5 72.6 L243.1 72.4 L242.7 72.4 L242.3 72.4 L241.9 74.2 L241.5 74.2 L241.1 74.2 L240.7 72.6 L240.3 72.6 L239.9 72.6 L239.5 72.3 L239.1 72.3 L238.7 72.3 L238.3 75.4 L237.9 75.4 L237.5 75.4 L237.1 105.0 L236.7 105.0 L236.3 105.0 L235.9 105.0 L235.5 74.0 L235.1 74.0 L234.7 73.7 L234.3 73.7 L233.9 73.7 L233.5 72.2 L233.1 72.2 L232.7 72.2 L232.3 73.4 L231.9 73.4 L231.5 73.4 L231.1 73.3 L230.7 73.3 L230.3 73.3 L229.9 72.1 L229.5 72.1 L229.1 72.0 L228.7 74.5 L228.3 74.5 L227.9 74.4 L227.5 74.7 L227.1 74.6 L226.7 74.6 L226.3 74.1 L225.9 74.1 L225.5 74.1 L225.1 73.5 L224.7 73.5 L224.3 73.4 L223.9 72.7 L223.5 72.7 L223.1 72.7 L222.7 74.2 L222.3 74.1 L221.9 257.7 L221.5 257.7 L221.1 257.7 L220.7 257.7 L220.3 71.3 L219.9 71.3 L219.5 71.3 L219.1 73.2 L218.7 73.3 L218.3 73.3 L217.9 71.6 L217.5 71.7 L217.1 71.8 L216.7 73.9 L216.3 74.0 L215.9 74.1 L215.5 74.5 L215.1 74.6 L214.7 74.7 L214.3 73.5 L213.9 73.6 L213.5 73.6 L213.1 73.0 L212.7 73.1 L212.3 73.2 L211.9 75.7 L211.5 75.8 L211.1 76.0 L210.7 73.1 L210.3 73.3 L209.9 73.4 L209.5 76.8 L209.1 77.0 L208.7 77.1 L208.3 76.6 L207.9 76.8 L207.5 76.9 L207.1 76.5 L206.7 76.7 L206.3 76.8 L205.9 77.9 L205.5 78.0 L205.1 78.1 L204.7 77.7 L204.3 77.6 L203.9 77.6 L203.5 76.3 L203.1 76.2 L202.7 76.2 L202.3 76.4 L201.9 76.3 L201.5 76.3 L201.1 77.4 L200.7 77.3 L200.3 77.3 L199.9 77.2 L199.5 77.2 L199.1 77.1 L198.7 75.8 L198.3 75.8 L197.9 75.8 L197.5 75.6 L197.1 75.6 L196.7 75.6 L196.3 74.8 L195.9 74.7 L195.5 74.7 L195.1 75.1 L194.7 75.1 L194.3 75.1 L193.9 75.1 L193.5 75.1 L193.1 75.1 L192.7 97.3 L192.3 97.3 L191.9 97.3 L191.5 97.3 L191.1 97.3 L190.7 74.4 L190.3 75.5 L189.9 75.5 L189.5 75.5 L189.1 76.5 L188.7 76.5 L188.3 76.5 L187.9 75.3 L187.5 75.3 L187.1 118.3 L186.7 118.3 L186.3 118.3 L185.9 118.3 L185.5 118.3 L185.1 74.1 L184.7 74.1 L184.3 76.7 L183.9 76.7 L183.5 76.7 L183.1 75.1 L182.7 75.1 L182.3 75.1 L181.9 76.6 L181.5 76.6 L181.1 76.6 L180.7 77.0 L180.3 77.0 L179.9 76.9 L179.5 77.0 L179.1 77.0 L178.7 77.0 L178.3 74.1 L177.9 74.1 L177.5 74.1 L177.1 75.4 L176.7 75.4 L176.3 75.4 L175.9 74.4 L175.5 74.4 L175.1 74.4 L174.7 73.7 L174.3 73.7 L173.9 73.7 L173.5 75.8 L173.1 75.8 L172.7 75.8 L172.3 77.0 L171.9 77.0 L171.5 77.0 L171.1 75.8 L170.7 75.8 L170.3 75.8 L169.9 75.2 L169.5 75.2 L169.1 75.2 L168.7 75.9 L168.3 75.9 L167.9 75.9 L167.5 73.8 L167.1 73.8 L166.7 73.8 L166.3 73.6 L165.9 73.6 L165.5 73.6 L165.1 74.7 L164.7 74.8 L164.3 74.8 L163.9 75.2 L163.5 75.2 L163.1 75.3 L162.7 75.7 L162.3 75.7 L161.9 75.8 L161.5 75.0 L161.1 75.0 L160.7 75.0 L160.3 75.0 L159.9 136.7 L159.5 136.7 L159.1 136.7 L158.7 136.7 L158.3 76.5 L157.9 74.4 L157.5 74.4 L157.1 74.5 L156.7 77.5 L156.3 77.5 L155.9 77.6 L155.5 75.5 L155.1 75.6 L154.7 75.7 L154.3 77.2 L153.9 77.3 L153.5 77.4 L153.1 76.3 L152.7 76.4 L152.3 76.5 L151.9 76.3 L151.5 76.4 L151.1 76.5 L150.7 77.9 L150.3 78.0 L149.9 78.1 L149.5 76.8 L149.1 76.9 L148.7 77.0 L148.3 77.5 L147.9 77.6 L147.5 77.7 L147.1 77.1 L146.7 77.3 L146.3 77.5 L145.9 79.1 L145.5 79.4 L145.1 79.6 L144.7 78.5 L144.3 78.7 L143.9 78.9 L143.5 81.6 L143.1 81.9 L142.7 82.1 L142.3 82.9 L141.9 83.1 L141.5 83.4 L141.1 80.6 L140.7 80.8 L140.3 81.1 L139.9 82.0 L139.5 82.2 L139.1 82.4 L138.7 82.0 L138.3 82.3 L137.9 82.5 L137.5 83.6 L137.1 83.8 L136.7 84.1 L136.3 82.6 L135.9 82.8 L135.5 83.1 L135.1 85.0 L134.7 85.3 L134.3 85.6 L133.9 87.5 L133.5 87.9 L133.1 88.3 L132.7 89.4 L132.3 89.8 L131.9 90.2 L131.5 88.6 L131.1 89.0 L130.7 89.4 L130.3 86.9 L129.9 87.3 L129.5 87.7 L129.1 94.8 L128.7 95.3 L128.3 95.8 L127.9 92.6 L127.5 93.1 L127.1 93.5 L126.7 91.2 L126.3 91.6 L125.9 92.1 L125.5 99.9 L125.1 100.7 L124.7 101.4 L124.3 98.2 L123.9 99.0 L123.5 99.7 L123.1 95.5 L122.7 96.4 L122.3 97.4 L121.9 107.3 L121.5 108.4 L121.1 109.4 L120.7 103.5 L120.3 105.4 L119.9 108.5 L119.5 111.9 L119.1 116.9 L118.7 126.7 L118.3 136.5 L117.9 149.0 L117.5 161.5 L117.1 173.5 L116.7 181.0 L116.3 181.0 L115.9 181.0 L115.5 70.7 L115.1 70.3 L114.7 71.1 L114.3 71.1 L113.9 71.1 L113.5 72.7 L113.1 72.7 L112.7 72.7 L112.3 72.2 L111.9 72.2 L111.5 72.2 L111.1 71.5 L110.7 71.5 L110.3 71.5 L109.9 70.7 L109.5 70.7 L109.1 70.7 L108.7 70.2 L108.3 70.2 L107.9 70.2 L107.5 71.5 L107.1 71.5 L106.7 71.5 L106.3 71.6 L105.9 71.6 L105.5 71.6 L105.1 73.4 L104.7 73.4 L104.3 73.4 L103.9 72.3 L103.5 72.3 L103.1 72.3 L102.7 71.3 L102.3 71.3 L101.9 71.3 L101.5 72.6 L101.1 92.0 L100.7 92.0 L100.3 92.0 L99.9 92.0 L99.5 70.2 Z" fill="#ffa500" stroke="#ffa500" stroke-width="1.5" stroke-linejoin="round"/></g>
<rect x="99.5" y="9.5" width="576.0" height="287.5" fill="none" stroke="#000" stroke-width="3.3"/>
<path d="M99.5 297.0 V305.5 M99.5 9.5 V1.0 M148.3 297.0 V305.5 M148.3 9.5 V1.0 M195.5 297.0 V305.5 M195.5 9.5 V1.0 M244.3 297.0 V305.5 M244.3 9.5 V1.0 M291.5 297.0 V305.5 M291.5 9.5 V1.0 M340.3 297.0 V305.5 M340.3 9.5 V1.0 M389.1 297.0 V305.5 M389.1 9.5 V1.0 M436.3 297.0 V305.5 M436.3 9.5 V1.0 M485.1 297.0 V305.5 M485.1 9.5 V1.0 M532.3 297.0 V305.5 M532.3 9.5 V1.0 M581.1 297.0 V305.5 M581.1 9.5 V1.0 M629.9 297.0 V305.5 M629.9 9.5 V1.0 M675.5 297.0 V305.5 M675.5 9.5 V1.0 M99.5 57.5 H90.0 M675.5 57.5 H685.0 M99.5 153.5 H90.0 M675.5 153.5 H685.0 M99.5 249.5 H90.0 M675.5 249.5 H685.0 M99.5 9.5 H94.5 M675.5 9.5 H680.5 M99.5 105.5 H94.5 M675.5 105.5 H680.5 M99.5 201.5 H94.5 M675.5 201.5 H680.5 M99.5 297.5 H94.5 M675.5 297.5 H680.5" stroke="#000" stroke-width="1.3" fill="none"/>
<text transform="translate(123.5 328.1) scale(0.965 1)" font-size="22.3" text-anchor="middle">03</text>
<text transform="translate(171.5 328.1) scale(0.965 1)" font-size="22.3" text-anchor="middle">04</text>
<text transform="translate(219.5 328.1) scale(0.965 1)" font-size="22.3" text-anchor="middle">05</text>
<text transform="translate(267.5 328.1) scale(0.965 1)" font-size="22.3" text-anchor="middle">06</text>
<text transform="translate(315.5 328.1) scale(0.965 1)" font-size="22.3" text-anchor="middle">07</text>
<text transform="translate(364.3 328.1) scale(0.965 1)" font-size="22.3" text-anchor="middle">08</text>
<text transform="translate(412.3 328.1) scale(0.965 1)" font-size="22.3" text-anchor="middle">09</text>
<text transform="translate(460.3 328.1) scale(0.965 1)" font-size="22.3" text-anchor="middle">10</text>
<text transform="translate(508.3 328.1) scale(0.965 1)" font-size="22.3" text-anchor="middle">11</text>
<text transform="translate(556.3 328.1) scale(0.965 1)" font-size="22.3" text-anchor="middle">12</text>
<text transform="translate(605.1 328.1) scale(0.965 1)" font-size="22.3" text-anchor="middle">01</text>
<text transform="translate(652.3 328.1) scale(0.965 1)" font-size="22.3" text-anchor="middle">02</text>
<text transform="translate(84.4 65.2) scale(0.965 1)" font-size="22.3" text-anchor="end">1400</text>
<text transform="translate(84.4 161.2) scale(0.965 1)" font-size="22.3" text-anchor="end">1200</text>
<text transform="translate(84.4 257.2) scale(0.965 1)" font-size="22.3" text-anchor="end">1000</text>
<text x="106" y="39.3" font-size="31">a)</text>
<text transform="translate(25.2 153.2) rotate(-90)" font-size="30" text-anchor="middle" textLength="160" lengthAdjust="spacingAndGlyphs"># of stations</text>
<g clip-path="url(#cb)">
<clipPath id="pk1"><path d="M99.5 757.1 L100.7 758.0 L101.5 757.9 L103.8 756.7 L105.0 755.2 L107.0 755.4 L109.0 753.9 L110.1 750.8 L111.0 748.7 L112.5 743.6 L114.0 723.8 L115.5 683.0 L117.0 644.1 L118.0 639.7 L119.0 643.8 L120.9 645.8 L122.5 647.1 L123.0 643.9 L123.5 626.0 L124.3 618.2 L125.9 612.6 L127.2 611.7 L127.8 610.0 L129.0 603.3 L131.0 624.8 L132.5 638.7 L134.0 627.0 L135.5 632.2 L137.0 638.6 L138.2 659.9 L139.5 657.3 L141.5 661.9 L143.2 659.5 L144.7 663.7 L145.5 657.8 L146.3 655.7 L147.5 666.5 L149.0 679.0 L150.7 675.6 L152.6 680.6 L153.5 683.2 L156.0 678.4 L157.3 671.7 L159.0 668.9 L161.0 667.6 L162.1 669.8 L163.0 666.2 L164.7 651.3 L166.5 642.0 L168.4 647.4 L169.9 654.5 L171.2 652.0 L173.1 656.6 L174.0 664.2 L176.8 668.5 L177.8 668.3 L179.0 666.6 L181.5 677.4 L182.5 687.7 L184.3 685.4 L185.7 685.6 L187.5 686.3 L188.8 689.8 L190.8 692.4 L192.0 694.6 L193.5 695.1 L194.5 694.3 L196.7 701.3 L198.3 703.3 L199.8 702.8 L201.0 703.5 L203.0 706.8 L204.0 710.4 L206.1 711.4 L207.0 709.4 L209.3 710.1 L210.5 711.8 L212.4 713.3 L214.7 718.6 L215.6 716.3 L217.1 717.4 L218.5 715.6 L220.3 713.3 L222.3 715.6 L223.4 712.1 L225.0 708.7 L226.6 706.0 L227.7 703.5 L230.0 703.1 L231.3 703.7 L232.9 713.7 L234.4 721.0 L236.0 730.5 L238.0 737.4 L239.2 743.3 L240.5 742.1 L243.0 736.3 L243.9 734.6 L245.0 730.8 L247.0 729.4 L248.0 732.3 L250.2 735.1 L251.0 738.9 L251.8 735.9 L254.0 735.1 L254.9 731.3 L257.0 731.5 L258.1 731.9 L260.0 731.7 L261.2 736.6 L263.0 737.4 L264.3 733.5 L266.0 732.7 L267.5 728.6 L269.0 726.0 L270.6 731.0 L272.0 731.3 L273.8 738.3 L275.3 742.0 L276.9 740.9 L278.5 746.3 L280.1 751.6 L281.4 749.6 L283.5 746.5 L284.8 740.9 L286.0 739.5 L288.0 739.2 L289.0 740.3 L291.1 736.9 L292.0 740.6 L294.2 737.6 L295.5 738.8 L297.4 738.6 L299.5 738.4 L300.5 739.5 L302.1 738.2 L304.0 737.8 L305.3 738.5 L306.8 738.5 L308.6 738.3 L310.0 738.8 L311.0 739.5 L313.0 741.2 L314.6 741.4 L315.2 734.7 L316.3 723.3 L317.4 739.1 L318.2 749.4 L320.0 753.7 L321.0 747.9 L322.5 748.8 L324.1 741.3 L325.3 735.9 L327.3 741.6 L329.0 742.6 L330.4 744.6 L332.0 742.9 L333.0 748.0 L335.2 743.1 L337.0 736.7 L338.3 735.4 L340.5 729.4 L341.5 733.6 L343.0 741.4 L345.0 738.9 L346.2 744.5 L347.8 740.1 L349.0 739.7 L350.9 738.8 L352.6 735.6 L354.1 736.5 L355.0 737.2 L357.2 735.6 L359.5 735.2 L360.3 731.6 L361.9 731.4 L364.0 732.3 L365.1 736.3 L366.6 744.0 L368.6 739.4 L369.8 738.8 L371.7 734.4 L372.9 736.2 L374.5 738.5 L376.2 735.9 L377.7 739.1 L379.5 734.0 L380.8 732.5 L382.3 727.6 L384.5 735.8 L385.5 741.8 L386.8 738.7 L388.7 742.7 L390.0 744.2 L391.8 745.6 L393.0 745.9 L395.0 745.0 L396.0 743.4 L398.1 738.6 L399.0 738.3 L402.0 744.9 L402.8 742.5 L405.0 741.9 L406.0 741.6 L408.0 738.0 L409.1 738.3 L411.0 739.1 L412.3 742.0 L413.9 740.6 L415.5 739.3 L417.0 742.7 L418.6 745.1 L420.0 747.8 L421.7 745.3 L423.0 739.8 L424.9 737.4 L426.2 735.9 L428.5 742.3 L429.6 742.9 L430.8 741.8 L433.0 743.7 L434.3 741.0 L435.3 740.3 L437.5 744.9 L438.3 747.4 L440.5 741.7 L442.2 734.3 L443.0 733.9 L443.8 728.1 L446.0 731.5 L446.9 729.3 L449.0 730.8 L450.1 734.8 L451.0 739.0 L453.5 739.1 L454.8 743.1 L457.0 744.4 L457.9 742.5 L459.5 747.3 L461.0 744.7 L462.6 743.6 L464.2 742.7 L465.5 741.2 L467.4 741.1 L468.9 737.9 L470.0 741.3 L472.5 741.5 L473.7 740.4 L474.7 740.2 L477.0 740.8 L479.0 735.7 L480.0 736.6 L482.0 739.6 L483.1 742.2 L485.3 741.8 L486.2 741.5 L487.8 740.1 L489.0 735.9 L491.0 736.8 L493.0 734.0 L494.1 738.7 L495.7 738.6 L497.0 739.0 L498.8 740.4 L500.5 741.5 L502.0 742.5 L504.0 743.8 L505.1 742.9 L506.7 742.4 L508.0 744.9 L510.5 744.7 L511.4 742.2 L512.6 738.0 L515.0 737.2 L516.1 736.2 L517.7 738.2 L519.0 737.6 L520.9 740.0 L522.6 744.2 L524.0 743.7 L525.5 745.7 L527.2 743.4 L528.6 743.5 L530.3 744.4 L531.9 745.5 L533.0 744.7 L535.0 747.1 L536.6 745.3 L537.7 748.5 L539.8 748.6 L541.3 746.1 L542.3 748.4 L545.0 742.7 L546.1 740.7 L547.7 732.4 L549.2 736.4 L550.5 739.9 L553.0 738.9 L553.9 741.5 L555.5 745.8 L557.4 745.7 L558.6 747.4 L560.0 743.6 L561.8 737.1 L563.0 739.3 L565.0 743.5 L567.0 746.5 L568.1 746.6 L569.7 748.8 L571.2 746.8 L572.6 747.3 L574.4 745.1 L576.0 748.6 L577.5 741.0 L579.0 738.4 L580.7 738.4 L582.5 740.6 L583.8 741.9 L586.0 745.6 L587.0 746.0 L588.5 748.0 L590.1 748.0 L591.4 748.8 L594.0 748.9 L594.8 745.6 L596.8 743.8 L598.0 743.4 L600.0 747.3 L601.1 747.6 L603.0 749.4 L604.3 745.5 L606.0 745.5 L607.4 743.4 L609.0 743.0 L610.6 745.2 L612.1 749.2 L613.5 750.0 L615.3 748.6 L616.5 746.3 L618.4 743.7 L619.5 742.4 L621.5 739.0 L623.5 729.1 L624.7 732.5 L625.5 740.6 L626.3 739.0 L627.7 743.4 L629.5 744.1 L631.0 747.9 L633.0 747.5 L634.2 748.8 L635.8 746.5 L637.7 743.9 L638.9 745.2 L640.0 745.1 L642.3 741.9 L643.6 745.1 L644.5 745.5 L646.8 748.8 L648.3 749.6 L650.0 746.1 L651.5 746.8 L653.0 744.1 L654.6 743.3 L655.5 740.8 L658.0 738.5 L659.4 742.3 L660.5 744.3 L662.5 746.5 L663.5 744.7 L665.7 746.6 L666.5 747.7 L669.5 746.1 L670.4 750.4 L672.0 747.6 L674.0 743.7 L675.5 741.2 L675.5 772.1 L99.5 772.1 Z"/></clipPath><g clip-path="url(#pk1)"><path d="M-77.04 601.26 L96.80 775.10 M-72.14 601.26 L101.70 775.10 M-67.24 601.26 L106.60 775.10 M-62.34 601.26 L111.50 775.10 M-57.44 601.26 L116.40 775.10 M-52.54 601.26 L121.30 775.10 M-47.64 601.26 L126.20 775.10 M-42.74 601.26 L131.10 775.10 M-37.84 601.26 L136.00 775.10 M-32.94 601.26 L140.90 775.10 M-28.04 601.26 L145.80 775.10 M-23.14 601.26 L150.70 775.10 M-18.24 601.26 L155.60 775.10 M-13.34 601.26 L160.50 775.10 M-8.44 601.26 L165.40 775.10 M-3.54 601.26 L170.30 775.10 M1.36 601.26 L175.20 775.10 M6.26 601.26 L180.10 775.10 M11.16 601.26 L185.00 775.10 M16.06 601.26 L189.90 775.10 M20.96 601.26 L194.80 775.10 M25.86 601.26 L199.70 775.10 M30.76 601.26 L204.60 775.10 M35.66 601.26 L209.50 775.10 M40.56 601.26 L214.40 775.10 M45.46 601.26 L219.30 775.10 M50.36 601.26 L224.20 775.10 M55.26 601.26 L229.10 775.10 M60.16 601.26 L234.00 775.10 M65.06 601.26 L238.90 775.10 M69.96 601.26 L243.80 775.10 M74.86 601.26 L248.70 775.10 M79.76 601.26 L253.60 775.10 M84.66 601.26 L258.50 775.10 M89.56 601.26 L263.40 775.10 M94.46 601.26 L268.30 775.10 M99.36 601.26 L273.20 775.10 M104.26 601.26 L278.10 775.10 M109.16 601.26 L283.00 775.10 M114.06 601.26 L287.90 775.10 M118.96 601.26 L292.80 775.10 M123.86 601.26 L297.70 775.10 M128.76 601.26 L302.60 775.10 M133.66 601.26 L307.50 775.10 M138.56 601.26 L312.40 775.10 M143.46 601.26 L317.30 775.10 M148.36 601.26 L322.20 775.10 M153.26 601.26 L327.10 775.10 M158.16 601.26 L332.00 775.10 M163.06 601.26 L336.90 775.10 M167.96 601.26 L341.80 775.10 M172.86 601.26 L346.70 775.10 M177.76 601.26 L351.60 775.10 M182.66 601.26 L356.50 775.10 M187.56 601.26 L361.40 775.10 M192.46 601.26 L366.30 775.10 M197.36 601.26 L371.20 775.10 M202.26 601.26 L376.10 775.10 M207.16 601.26 L381.00 775.10 M212.06 601.26 L385.90 775.10 M216.96 601.26 L390.80 775.10 M221.86 601.26 L395.70 775.10 M226.76 601.26 L400.60 775.10 M231.66 601.26 L405.50 775.10 M236.56 601.26 L410.40 775.10 M241.46 601.26 L415.30 775.10 M246.36 601.26 L420.20 775.10 M251.26 601.26 L425.10 775.10 M256.16 601.26 L430.00 775.10 M261.06 601.26 L434.90 775.10 M265.96 601.26 L439.80 775.10 M270.86 601.26 L444.70 775.10 M275.76 601.26 L449.60 775.10 M280.66 601.26 L454.50 775.10 M285.56 601.26 L459.40 775.10 M290.46 601.26 L464.30 775.10 M295.36 601.26 L469.20 775.10 M300.26 601.26 L474.10 775.10 M305.16 601.26 L479.00 775.10 M310.06 601.26 L483.90 775.10 M314.96 601.26 L488.80 775.10 M319.86 601.26 L493.70 775.10 M324.76 601.26 L498.60 775.10 M329.66 601.26 L503.50 775.10 M334.56 601.26 L508.40 775.10 M339.46 601.26 L513.30 775.10 M344.36 601.26 L518.20 775.10 M349.26 601.26 L523.10 775.10 M354.16 601.26 L528.00 775.10 M359.06 601.26 L532.90 775.10 M363.96 601.26 L537.80 775.10 M368.86 601.26 L542.70 775.10 M373.76 601.26 L547.60 775.10 M378.66 601.26 L552.50 775.10 M383.56 601.26 L557.40 775.10 M388.46 601.26 L562.30 775.10 M393.36 601.26 L567.20 775.10 M398.26 601.26 L572.10 775.10 M403.16 601.26 L577.00 775.10 M408.06 601.26 L581.90 775.10 M412.96 601.26 L586.80 775.10 M417.86 601.26 L591.70 775.10 M422.76 601.26 L596.60 775.10 M427.66 601.26 L601.50 775.10 M432.56 601.26 L606.40 775.10 M437.46 601.26 L611.30 775.10 M442.36 601.26 L616.20 775.10 M447.26 601.26 L621.10 775.10 M452.16 601.26 L626.00 775.10 M457.06 601.26 L630.90 775.10 M461.96 601.26 L635.80 775.10 M466.86 601.26 L640.70 775.10 M471.76 601.26 L645.60 775.10 M476.66 601.26 L650.50 775.10 M481.56 601.26 L655.40 775.10 M486.46 601.26 L660.30 775.10 M491.36 601.26 L665.20 775.10 M496.26 601.26 L670.10 775.10 M501.16 601.26 L675.00 775.10 M506.06 601.26 L679.90 775.10 M510.96 601.26 L684.80 775.10 M515.86 601.26 L689.70 775.10 M520.76 601.26 L694.60 775.10 M525.66 601.26 L699.50 775.10 M530.56 601.26 L704.40 775.10 M535.46 601.26 L709.30 775.10 M540.36 601.26 L714.20 775.10 M545.26 601.26 L719.10 775.10 M550.16 601.26 L724.00 775.10 M555.06 601.26 L728.90 775.10 M559.96 601.26 L733.80 775.10 M564.86 601.26 L738.70 775.10 M569.76 601.26 L743.60 775.10 M574.66 601.26 L748.50 775.10 M579.56 601.26 L753.40 775.10 M584.46 601.26 L758.30 775.10 M589.36 601.26 L763.20 775.10 M594.26 601.26 L768.10 775.10 M599.16 601.26 L773.00 775.10 M604.06 601.26 L777.90 775.10 M608.96 601.26 L782.80 775.10 M613.86 601.26 L787.70 775.10 M618.76 601.26 L792.60 775.10 M623.66 601.26 L797.50 775.10 M628.56 601.26 L802.40 775.10 M633.46 601.26 L807.30 775.10 M638.36 601.26 L812.20 775.10 M643.26 601.26 L817.10 775.10 M648.16 601.26 L822.00 775.10 M653.06 601.26 L826.90 775.10 M657.96 601.26 L831.80 775.10 M662.86 601.26 L836.70 775.10 M667.76 601.26 L841.60 775.10 M672.66 601.26 L846.50 775.10" stroke="#000" stroke-width="1.0" fill="none"/></g>
<clipPath id="pr1"><path d="M99.5 737.0 L101.3 740.0 L102.2 738.4 L103.8 735.8 L105.5 733.0 L106.9 740.9 L109.0 736.0 L110.3 731.5 L111.0 729.0 L111.6 726.0 L112.6 721.0 L113.4 690.0 L113.9 600.0 L114.5 555.0 L116.0 511.0 L118.0 507.9 L119.2 506.0 L121.1 505.3 L121.9 505.0 L123.0 511.4 L124.4 514.5 L125.0 500.8 L125.9 482.5 L127.5 454.4 L129.7 436.5 L130.6 438.9 L132.4 441.8 L133.9 460.0 L136.0 465.0 L136.9 468.2 L138.0 472.4 L140.2 484.9 L141.6 486.5 L143.2 488.4 L144.4 489.8 L146.3 490.7 L147.5 491.3 L149.5 496.3 L151.7 502.0 L152.6 504.7 L154.2 509.3 L156.0 514.6 L157.3 522.1 L159.0 531.0 L160.5 525.8 L162.2 527.0 L163.6 508.7 L165.0 485.4 L166.8 493.8 L168.5 502.0 L169.9 502.9 L171.7 504.0 L173.1 507.6 L175.0 512.6 L176.2 512.1 L177.0 511.8 L177.8 513.2 L179.4 516.1 L181.4 519.8 L182.5 528.3 L184.0 540.7 L186.0 560.8 L187.2 567.5 L188.8 575.1 L190.8 574.9 L192.0 573.6 L193.0 575.3 L195.0 574.3 L196.7 567.0 L197.8 568.5 L199.5 568.2 L202.0 584.5 L203.0 588.9 L204.8 589.6 L206.1 597.8 L207.0 604.9 L209.3 608.1 L210.8 606.4 L211.7 606.3 L214.0 604.4 L216.2 601.1 L217.1 602.1 L218.7 610.5 L220.8 611.3 L221.9 609.0 L224.0 608.1 L225.0 608.5 L226.6 605.2 L228.3 605.9 L229.7 604.5 L232.0 608.3 L232.9 605.7 L234.4 609.2 L236.0 611.1 L237.6 626.7 L239.8 642.1 L240.7 638.4 L242.3 626.8 L244.0 620.7 L245.5 609.7 L247.0 600.4 L248.0 593.9 L250.2 609.0 L251.8 622.6 L252.6 620.0 L254.9 619.6 L256.0 618.4 L258.1 620.5 L260.0 618.9 L261.2 621.7 L262.8 623.4 L264.0 625.3 L265.9 625.3 L267.7 627.6 L269.1 629.1 L270.8 627.3 L272.2 629.0 L273.8 632.2 L275.0 637.3 L276.9 638.6 L278.3 638.8 L280.1 639.0 L281.7 634.8 L283.0 635.0 L284.8 633.2 L286.4 632.8 L287.4 633.2 L289.5 634.3 L291.1 631.6 L292.6 630.1 L294.2 636.0 L296.0 636.6 L297.4 637.9 L299.5 636.6 L300.5 638.9 L302.1 637.2 L303.0 637.0 L305.3 637.4 L307.0 636.8 L308.4 638.2 L310.0 638.2 L311.6 637.6 L313.0 637.7 L314.6 616.7 L315.6 593.5 L316.8 591.5 L318.0 626.9 L319.2 657.4 L321.0 656.2 L322.0 654.8 L324.1 647.0 L325.3 647.2 L327.3 649.8 L329.0 652.3 L330.4 653.6 L332.0 653.4 L333.0 653.9 L335.2 649.1 L337.0 637.3 L338.3 630.5 L340.5 618.8 L341.5 626.2 L343.0 635.9 L345.0 639.4 L346.2 641.7 L347.8 641.2 L349.5 640.7 L350.9 644.9 L352.5 649.0 L354.0 647.6 L355.6 650.5 L357.0 644.3 L358.8 641.3 L361.0 640.5 L361.9 644.7 L363.5 646.4 L365.6 644.9 L366.6 644.2 L368.2 645.1 L370.0 643.9 L371.4 647.2 L372.9 650.8 L374.5 651.2 L376.0 651.9 L377.7 653.7 L379.0 643.8 L380.8 639.5 L382.3 636.9 L384.5 648.3 L385.5 655.3 L386.8 665.0 L388.7 666.3 L390.0 669.7 L391.8 672.6 L393.0 673.1 L395.0 667.4 L396.0 666.6 L398.1 660.7 L399.0 653.7 L402.0 654.0 L402.8 657.1 L405.0 659.5 L406.0 663.1 L408.0 666.4 L409.1 664.5 L411.0 667.9 L412.3 667.1 L413.9 667.9 L415.6 665.1 L417.0 669.2 L418.0 671.9 L420.0 673.9 L421.7 670.9 L423.0 664.0 L424.9 650.6 L426.0 645.2 L428.0 648.1 L429.0 654.5 L431.2 655.5 L432.3 654.5 L434.3 654.4 L435.3 653.1 L437.5 651.1 L438.3 652.0 L441.0 641.8 L442.2 637.4 L443.5 627.7 L446.0 636.3 L446.9 639.9 L449.0 650.3 L450.1 653.1 L451.6 657.6 L453.5 658.2 L454.8 659.5 L456.3 658.3 L458.0 664.0 L459.5 667.8 L461.1 674.1 L462.6 672.8 L464.2 672.4 L466.0 664.4 L467.4 660.7 L468.9 652.8 L470.0 647.7 L472.5 667.4 L473.7 668.7 L474.7 668.4 L476.8 674.2 L479.0 661.4 L480.0 661.7 L482.0 665.2 L483.1 667.5 L485.3 668.9 L486.2 668.9 L487.8 668.5 L489.0 664.8 L491.0 658.7 L493.0 659.4 L494.1 665.2 L496.0 669.8 L497.3 669.2 L499.0 670.7 L500.4 668.9 L502.0 669.3 L503.0 669.7 L505.1 673.2 L506.5 673.9 L508.3 672.9 L509.5 668.7 L511.4 660.4 L512.6 653.5 L515.0 644.0 L516.1 645.4 L518.0 648.9 L520.0 661.0 L520.9 666.5 L522.6 667.2 L524.0 666.7 L525.6 666.9 L527.0 669.1 L528.7 671.4 L530.3 671.0 L531.7 674.6 L533.5 673.6 L534.5 670.2 L536.6 670.0 L537.7 672.1 L539.8 676.2 L541.3 678.1 L542.3 677.7 L545.0 677.0 L546.1 673.5 L547.7 668.0 L549.2 669.8 L550.5 673.5 L553.0 680.1 L553.9 679.0 L556.0 681.3 L557.1 684.2 L558.6 680.3 L559.5 677.4 L561.8 672.6 L563.0 669.6 L564.9 680.4 L566.5 683.5 L568.1 682.1 L569.7 681.7 L571.0 678.4 L572.8 681.5 L574.4 681.5 L575.6 682.0 L578.0 681.2 L579.1 676.6 L580.0 671.4 L582.2 677.9 L583.0 677.4 L583.8 681.6 L586.0 681.5 L587.0 679.9 L589.0 679.1 L590.1 679.7 L592.3 678.1 L593.3 681.9 L594.8 684.2 L596.4 683.7 L598.3 685.1 L599.6 686.6 L601.0 687.1 L602.7 687.8 L604.4 686.0 L605.9 685.8 L607.0 685.4 L609.5 681.8 L610.6 687.0 L612.0 688.9 L613.7 690.1 L615.0 689.8 L616.9 685.3 L618.4 684.6 L619.5 681.0 L621.5 669.4 L623.5 657.0 L624.7 664.7 L625.5 672.6 L626.3 680.0 L627.7 685.0 L629.5 688.0 L631.7 687.9 L632.6 690.3 L634.2 687.6 L636.0 686.8 L637.3 688.4 L638.9 691.9 L640.8 693.0 L642.1 689.7 L643.6 688.9 L645.3 688.0 L646.8 683.3 L649.0 683.5 L649.9 684.5 L651.5 684.9 L653.0 681.6 L654.6 681.5 L656.0 680.8 L658.0 677.5 L659.4 681.8 L660.5 694.5 L662.5 699.3 L663.5 696.3 L665.7 695.7 L667.2 695.8 L668.0 692.8 L668.8 691.7 L671.0 691.0 L672.0 689.9 L674.0 690.7 L675.5 691.2 L675.5 735.0 L674.0 734.0 L672.0 737.0 L670.4 740.9 L669.5 741.5 L666.5 739.0 L665.7 744.1 L663.5 738.5 L662.5 740.3 L660.5 734.0 L659.4 733.8 L658.0 728.5 L655.5 732.0 L654.6 733.9 L653.0 735.5 L651.5 738.2 L650.0 738.0 L648.3 741.6 L646.8 741.5 L644.5 736.0 L643.6 737.0 L642.3 729.4 L640.0 733.0 L638.9 735.2 L637.7 737.0 L635.8 742.1 L634.2 741.0 L633.0 741.5 L631.0 739.4 L629.5 738.2 L627.7 734.0 L626.3 728.9 L625.5 725.0 L624.7 723.8 L623.5 715.0 L621.5 724.0 L619.5 734.0 L618.4 735.3 L616.5 737.0 L615.3 741.1 L613.5 741.5 L612.1 740.6 L610.6 735.7 L609.0 732.4 L607.4 734.5 L606.0 736.0 L604.3 743.0 L603.0 740.0 L601.1 739.6 L600.0 738.0 L598.0 740.9 L596.8 734.0 L594.8 737.3 L594.0 737.0 L591.4 741.5 L590.1 741.5 L588.5 739.8 L587.0 737.2 L586.0 735.5 L583.8 736.7 L582.5 733.0 L580.7 731.3 L579.0 729.4 L577.5 734.5 L576.0 735.0 L574.4 738.8 L572.6 741.5 L571.2 741.9 L569.7 742.8 L568.1 740.1 L567.0 738.5 L565.0 733.0 L563.0 726.4 L561.8 731.3 L560.0 732.0 L558.6 740.5 L557.4 738.5 L555.5 741.3 L553.9 739.0 L553.0 734.0 L550.5 728.0 L549.2 725.3 L547.7 720.3 L546.1 729.1 L545.0 730.0 L542.3 740.0 L541.3 743.6 L539.8 739.8 L537.7 738.5 L536.6 738.8 L535.0 738.9 L533.0 737.0 L531.9 738.3 L530.3 739.2 L528.6 737.0 L527.2 740.9 L525.5 735.0 L524.0 734.3 L522.6 732.4 L520.9 732.6 L519.0 730.0 L517.7 731.3 L516.1 729.4 L515.0 728.0 L512.6 728.0 L511.4 730.6 L510.5 732.0 L508.0 737.0 L506.7 736.5 L505.1 740.4 L504.0 735.0 L502.0 733.9 L500.5 732.4 L498.8 734.0 L497.0 731.0 L495.7 733.7 L494.1 731.0 L493.0 728.0 L491.0 730.4 L489.0 730.0 L487.8 734.6 L486.2 735.0 L485.3 734.0 L483.1 736.8 L482.0 733.0 L480.0 730.9 L479.0 729.4 L477.0 731.0 L474.7 734.0 L473.7 734.1 L472.5 733.0 L470.0 729.4 L468.9 733.0 L467.4 735.2 L465.5 733.0 L464.2 738.8 L462.6 739.0 L461.0 738.5 L459.5 737.5 L457.9 739.4 L457.0 735.0 L454.8 733.1 L453.5 731.0 L451.0 726.0 L450.1 725.4 L449.0 720.0 L446.9 725.8 L446.0 723.0 L443.8 722.3 L443.0 721.0 L442.2 726.4 L440.5 728.0 L438.3 737.0 L437.5 737.7 L435.3 729.4 L434.3 731.6 L433.0 733.0 L430.8 737.0 L429.6 735.5 L428.5 732.0 L426.2 726.4 L424.9 728.9 L423.0 731.0 L421.7 737.9 L420.0 737.0 L418.6 736.8 L417.0 735.9 L415.5 735.0 L413.9 736.4 L412.3 732.9 L411.0 731.0 L409.1 732.6 L408.0 730.0 L406.0 733.1 L405.0 734.0 L402.8 734.0 L402.0 733.0 L399.0 729.4 L398.1 732.6 L396.0 733.0 L395.0 737.5 L393.0 738.5 L391.8 740.6 L390.0 735.0 L388.7 734.8 L386.8 734.0 L385.5 731.8 L384.5 726.0 L382.3 718.8 L380.8 724.9 L379.5 724.0 L377.7 728.3 L376.2 731.0 L374.5 729.6 L372.9 725.7 L371.7 723.3 L369.8 731.5 L368.6 732.4 L366.6 731.2 L365.1 727.0 L364.0 724.8 L361.9 727.2 L360.3 726.8 L359.5 727.0 L357.2 728.7 L355.0 729.4 L354.1 730.3 L352.6 729.4 L350.9 730.9 L349.0 731.0 L347.8 735.2 L346.2 734.8 L345.0 735.5 L343.0 726.0 L341.5 720.7 L340.5 715.8 L338.3 723.1 L337.0 726.0 L335.2 733.3 L333.0 738.5 L332.0 740.4 L330.4 739.0 L329.0 735.0 L327.3 733.8 L325.3 729.4 L324.1 734.7 L322.5 736.0 L321.0 743.8 L320.0 746.0 L318.2 726.0 L317.4 706.0 L316.3 707.7 L315.2 706.0 L314.6 722.0 L313.0 734.0 L311.0 733.0 L310.0 732.0 L308.6 729.4 L306.8 732.1 L305.3 732.3 L304.0 731.0 L302.1 732.7 L300.5 734.5 L299.5 734.0 L297.4 732.1 L295.5 730.0 L294.2 731.0 L292.0 732.4 L291.1 732.7 L289.0 733.0 L288.0 733.4 L286.0 729.4 L284.8 733.0 L283.5 735.0 L281.4 743.0 L280.1 741.7 L278.5 736.0 L276.9 734.2 L275.3 731.0 L273.8 729.6 L272.0 724.0 L270.6 723.0 L269.0 717.0 L267.5 722.8 L266.0 722.0 L264.3 728.8 L263.0 729.4 L261.2 727.7 L260.0 726.0 L258.1 724.1 L257.0 721.8 L254.9 724.3 L254.0 724.0 L251.8 728.6 L251.0 729.4 L250.2 730.2 L248.0 722.0 L247.0 720.5 L245.0 715.8 L243.9 722.1 L243.0 724.0 L240.5 735.5 L239.2 732.1 L238.0 722.0 L236.0 712.7 L234.4 706.6 L232.9 697.6 L231.3 695.8 L230.0 693.0 L227.7 690.0 L226.6 694.6 L225.0 698.0 L223.4 703.6 L222.3 705.0 L220.3 706.0 L218.5 706.0 L217.1 709.1 L215.6 709.9 L214.7 709.7 L212.4 707.2 L210.5 701.0 L209.3 702.4 L207.0 703.6 L206.1 704.0 L204.0 697.0 L203.0 699.9 L201.0 694.5 L199.8 696.4 L198.3 693.0 L196.7 691.1 L194.5 686.0 L193.5 692.6 L192.0 684.9 L190.8 681.8 L188.8 679.2 L187.5 677.0 L185.7 678.0 L184.3 678.0 L182.5 668.2 L181.5 660.0 L179.0 657.0 L177.8 658.8 L176.8 659.4 L174.0 641.7 L173.1 645.6 L171.2 641.7 L169.9 636.3 L168.4 627.7 L166.5 621.0 L164.7 618.4 L163.0 636.0 L162.1 649.0 L161.0 659.4 L159.0 641.7 L157.3 652.6 L156.0 660.0 L153.5 674.0 L152.6 672.6 L150.7 668.7 L149.0 650.0 L147.5 628.6 L146.3 637.3 L145.5 640.0 L144.7 647.2 L143.2 655.7 L141.5 650.0 L139.5 644.5 L138.2 615.0 L137.0 589.4 L135.5 600.0 L134.0 622.0 L132.5 600.0 L131.0 590.0 L129.0 584.0 L127.8 583.0 L127.2 556.0 L125.9 556.4 L124.3 559.9 L123.5 557.0 L123.0 605.0 L122.5 628.0 L120.9 640.7 L119.0 634.0 L118.0 628.9 L117.0 624.0 L115.5 640.0 L114.0 680.0 L112.5 722.0 L111.0 741.5 L110.1 743.4 L109.0 745.7 L107.0 751.0 L105.0 748.5 L103.8 749.9 L101.5 752.7 L100.7 751.0 L99.5 748.5 Z"/></clipPath><g clip-path="url(#pr1)"><path d="M-223.40 754.70 L96.80 434.50 M-218.50 754.70 L101.70 434.50 M-213.60 754.70 L106.60 434.50 M-208.70 754.70 L111.50 434.50 M-203.80 754.70 L116.40 434.50 M-198.90 754.70 L121.30 434.50 M-194.00 754.70 L126.20 434.50 M-189.10 754.70 L131.10 434.50 M-184.20 754.70 L136.00 434.50 M-179.30 754.70 L140.90 434.50 M-174.40 754.70 L145.80 434.50 M-169.50 754.70 L150.70 434.50 M-164.60 754.70 L155.60 434.50 M-159.70 754.70 L160.50 434.50 M-154.80 754.70 L165.40 434.50 M-149.90 754.70 L170.30 434.50 M-145.00 754.70 L175.20 434.50 M-140.10 754.70 L180.10 434.50 M-135.20 754.70 L185.00 434.50 M-130.30 754.70 L189.90 434.50 M-125.40 754.70 L194.80 434.50 M-120.50 754.70 L199.70 434.50 M-115.60 754.70 L204.60 434.50 M-110.70 754.70 L209.50 434.50 M-105.80 754.70 L214.40 434.50 M-100.90 754.70 L219.30 434.50 M-96.00 754.70 L224.20 434.50 M-91.10 754.70 L229.10 434.50 M-86.20 754.70 L234.00 434.50 M-81.30 754.70 L238.90 434.50 M-76.40 754.70 L243.80 434.50 M-71.50 754.70 L248.70 434.50 M-66.60 754.70 L253.60 434.50 M-61.70 754.70 L258.50 434.50 M-56.80 754.70 L263.40 434.50 M-51.90 754.70 L268.30 434.50 M-47.00 754.70 L273.20 434.50 M-42.10 754.70 L278.10 434.50 M-37.20 754.70 L283.00 434.50 M-32.30 754.70 L287.90 434.50 M-27.40 754.70 L292.80 434.50 M-22.50 754.70 L297.70 434.50 M-17.60 754.70 L302.60 434.50 M-12.70 754.70 L307.50 434.50 M-7.80 754.70 L312.40 434.50 M-2.90 754.70 L317.30 434.50 M2.00 754.70 L322.20 434.50 M6.90 754.70 L327.10 434.50 M11.80 754.70 L332.00 434.50 M16.70 754.70 L336.90 434.50 M21.60 754.70 L341.80 434.50 M26.50 754.70 L346.70 434.50 M31.40 754.70 L351.60 434.50 M36.30 754.70 L356.50 434.50 M41.20 754.70 L361.40 434.50 M46.10 754.70 L366.30 434.50 M51.00 754.70 L371.20 434.50 M55.90 754.70 L376.10 434.50 M60.80 754.70 L381.00 434.50 M65.70 754.70 L385.90 434.50 M70.60 754.70 L390.80 434.50 M75.50 754.70 L395.70 434.50 M80.40 754.70 L400.60 434.50 M85.30 754.70 L405.50 434.50 M90.20 754.70 L410.40 434.50 M95.10 754.70 L415.30 434.50 M100.00 754.70 L420.20 434.50 M104.90 754.70 L425.10 434.50 M109.80 754.70 L430.00 434.50 M114.70 754.70 L434.90 434.50 M119.60 754.70 L439.80 434.50 M124.50 754.70 L444.70 434.50 M129.40 754.70 L449.60 434.50 M134.30 754.70 L454.50 434.50 M139.20 754.70 L459.40 434.50 M144.10 754.70 L464.30 434.50 M149.00 754.70 L469.20 434.50 M153.90 754.70 L474.10 434.50 M158.80 754.70 L479.00 434.50 M163.70 754.70 L483.90 434.50 M168.60 754.70 L488.80 434.50 M173.50 754.70 L493.70 434.50 M178.40 754.70 L498.60 434.50 M183.30 754.70 L503.50 434.50 M188.20 754.70 L508.40 434.50 M193.10 754.70 L513.30 434.50 M198.00 754.70 L518.20 434.50 M202.90 754.70 L523.10 434.50 M207.80 754.70 L528.00 434.50 M212.70 754.70 L532.90 434.50 M217.60 754.70 L537.80 434.50 M222.50 754.70 L542.70 434.50 M227.40 754.70 L547.60 434.50 M232.30 754.70 L552.50 434.50 M237.20 754.70 L557.40 434.50 M242.10 754.70 L562.30 434.50 M247.00 754.70 L567.20 434.50 M251.90 754.70 L572.10 434.50 M256.80 754.70 L577.00 434.50 M261.70 754.70 L581.90 434.50 M266.60 754.70 L586.80 434.50 M271.50 754.70 L591.70 434.50 M276.40 754.70 L596.60 434.50 M281.30 754.70 L601.50 434.50 M286.20 754.70 L606.40 434.50 M291.10 754.70 L611.30 434.50 M296.00 754.70 L616.20 434.50 M300.90 754.70 L621.10 434.50 M305.80 754.70 L626.00 434.50 M310.70 754.70 L630.90 434.50 M315.60 754.70 L635.80 434.50 M320.50 754.70 L640.70 434.50 M325.40 754.70 L645.60 434.50 M330.30 754.70 L650.50 434.50 M335.20 754.70 L655.40 434.50 M340.10 754.70 L660.30 434.50 M345.00 754.70 L665.20 434.50 M349.90 754.70 L670.10 434.50 M354.80 754.70 L675.00 434.50 M359.70 754.70 L679.90 434.50 M364.60 754.70 L684.80 434.50 M369.50 754.70 L689.70 434.50 M374.40 754.70 L694.60 434.50 M379.30 754.70 L699.50 434.50 M384.20 754.70 L704.40 434.50 M389.10 754.70 L709.30 434.50 M394.00 754.70 L714.20 434.50 M398.90 754.70 L719.10 434.50 M403.80 754.70 L724.00 434.50 M408.70 754.70 L728.90 434.50 M413.60 754.70 L733.80 434.50 M418.50 754.70 L738.70 434.50 M423.40 754.70 L743.60 434.50 M428.30 754.70 L748.50 434.50 M433.20 754.70 L753.40 434.50 M438.10 754.70 L758.30 434.50 M443.00 754.70 L763.20 434.50 M447.90 754.70 L768.10 434.50 M452.80 754.70 L773.00 434.50 M457.70 754.70 L777.90 434.50 M462.60 754.70 L782.80 434.50 M467.50 754.70 L787.70 434.50 M472.40 754.70 L792.60 434.50 M477.30 754.70 L797.50 434.50 M482.20 754.70 L802.40 434.50 M487.10 754.70 L807.30 434.50 M492.00 754.70 L812.20 434.50 M496.90 754.70 L817.10 434.50 M501.80 754.70 L822.00 434.50 M506.70 754.70 L826.90 434.50 M511.60 754.70 L831.80 434.50 M516.50 754.70 L836.70 434.50 M521.40 754.70 L841.60 434.50 M526.30 754.70 L846.50 434.50 M531.20 754.70 L851.40 434.50 M536.10 754.70 L856.30 434.50 M541.00 754.70 L861.20 434.50 M545.90 754.70 L866.10 434.50 M550.80 754.70 L871.00 434.50 M555.70 754.70 L875.90 434.50 M560.60 754.70 L880.80 434.50 M565.50 754.70 L885.70 434.50 M570.40 754.70 L890.60 434.50 M575.30 754.70 L895.50 434.50 M580.20 754.70 L900.40 434.50 M585.10 754.70 L905.30 434.50 M590.00 754.70 L910.20 434.50 M594.90 754.70 L915.10 434.50 M599.80 754.70 L920.00 434.50 M604.70 754.70 L924.90 434.50 M609.60 754.70 L929.80 434.50 M614.50 754.70 L934.70 434.50 M619.40 754.70 L939.60 434.50 M624.30 754.70 L944.50 434.50 M629.20 754.70 L949.40 434.50 M634.10 754.70 L954.30 434.50 M639.00 754.70 L959.20 434.50 M643.90 754.70 L964.10 434.50 M648.80 754.70 L969.00 434.50 M653.70 754.70 L973.90 434.50 M658.60 754.70 L978.80 434.50 M663.50 754.70 L983.70 434.50 M668.40 754.70 L988.60 434.50 M673.30 754.70 L993.50 434.50" stroke="#ff0000" stroke-width="1.05" fill="none"/></g>
<path d="M99.5 748.5 L100.7 751.0 L101.5 752.7 L103.8 749.9 L105.0 748.5 L107.0 751.0 L109.0 745.7 L110.1 743.4 L111.0 741.5 L112.5 722.0 L114.0 680.0 L115.5 640.0 L117.0 624.0 L118.0 628.9 L119.0 634.0 L120.9 640.7 L122.5 628.0 L123.0 605.0 L123.5 557.0 L124.3 559.9 L125.9 556.4 L127.2 556.0 L127.8 583.0 L129.0 584.0 L131.0 590.0 L132.5 600.0 L134.0 622.0 L135.5 600.0 L137.0 589.4 L138.2 615.0 L139.5 644.5 L141.5 650.0 L143.2 655.7 L144.7 647.2 L145.5 640.0 L146.3 637.3 L147.5 628.6 L149.0 650.0 L150.7 668.7 L152.6 672.6 L153.5 674.0 L156.0 660.0 L157.3 652.6 L159.0 641.7 L161.0 659.4 L162.1 649.0 L163.0 636.0 L164.7 618.4 L166.5 621.0 L168.4 627.7 L169.9 636.3 L171.2 641.7 L173.1 645.6 L174.0 641.7 L176.8 659.4 L177.8 658.8 L179.0 657.0 L181.5 660.0 L182.5 668.2 L184.3 678.0 L185.7 678.0 L187.5 677.0 L188.8 679.2 L190.8 681.8 L192.0 684.9 L193.5 692.6 L194.5 686.0 L196.7 691.1 L198.3 693.0 L199.8 696.4 L201.0 694.5 L203.0 699.9 L204.0 697.0 L206.1 704.0 L207.0 703.6 L209.3 702.4 L210.5 701.0 L212.4 707.2 L214.7 709.7 L215.6 709.9 L217.1 709.1 L218.5 706.0 L220.3 706.0 L222.3 705.0 L223.4 703.6 L225.0 698.0 L226.6 694.6 L227.7 690.0 L230.0 693.0 L231.3 695.8 L232.9 697.6 L234.4 706.6 L236.0 712.7 L238.0 722.0 L239.2 732.1 L240.5 735.5 L243.0 724.0 L243.9 722.1 L245.0 715.8 L247.0 720.5 L248.0 722.0 L250.2 730.2 L251.0 729.4 L251.8 728.6 L254.0 724.0 L254.9 724.3 L257.0 721.8 L258.1 724.1 L260.0 726.0 L261.2 727.7 L263.0 729.4 L264.3 728.8 L266.0 722.0 L267.5 722.8 L269.0 717.0 L270.6 723.0 L272.0 724.0 L273.8 729.6 L275.3 731.0 L276.9 734.2 L278.5 736.0 L280.1 741.7 L281.4 743.0 L283.5 735.0 L284.8 733.0 L286.0 729.4 L288.0 733.4 L289.0 733.0 L291.1 732.7 L292.0 732.4 L294.2 731.0 L295.5 730.0 L297.4 732.1 L299.5 734.0 L300.5 734.5 L302.1 732.7 L304.0 731.0 L305.3 732.3 L306.8 732.1 L308.6 729.4 L310.0 732.0 L311.0 733.0 L313.0 734.0 L314.6 722.0 L315.2 706.0 L316.3 707.7 L317.4 706.0 L318.2 726.0 L320.0 746.0 L321.0 743.8 L322.5 736.0 L324.1 734.7 L325.3 729.4 L327.3 733.8 L329.0 735.0 L330.4 739.0 L332.0 740.4 L333.0 738.5 L335.2 733.3 L337.0 726.0 L338.3 723.1 L340.5 715.8 L341.5 720.7 L343.0 726.0 L345.0 735.5 L346.2 734.8 L347.8 735.2 L349.0 731.0 L350.9 730.9 L352.6 729.4 L354.1 730.3 L355.0 729.4 L357.2 728.7 L359.5 727.0 L360.3 726.8 L361.9 727.2 L364.0 724.8 L365.1 727.0 L366.6 731.2 L368.6 732.4 L369.8 731.5 L371.7 723.3 L372.9 725.7 L374.5 729.6 L376.2 731.0 L377.7 728.3 L379.5 724.0 L380.8 724.9 L382.3 718.8 L384.5 726.0 L385.5 731.8 L386.8 734.0 L388.7 734.8 L390.0 735.0 L391.8 740.6 L393.0 738.5 L395.0 737.5 L396.0 733.0 L398.1 732.6 L399.0 729.4 L402.0 733.0 L402.8 734.0 L405.0 734.0 L406.0 733.1 L408.0 730.0 L409.1 732.6 L411.0 731.0 L412.3 732.9 L413.9 736.4 L415.5 735.0 L417.0 735.9 L418.6 736.8 L420.0 737.0 L421.7 737.9 L423.0 731.0 L424.9 728.9 L426.2 726.4 L428.5 732.0 L429.6 735.5 L430.8 737.0 L433.0 733.0 L434.3 731.6 L435.3 729.4 L437.5 737.7 L438.3 737.0 L440.5 728.0 L442.2 726.4 L443.0 721.0 L443.8 722.3 L446.0 723.0 L446.9 725.8 L449.0 720.0 L450.1 725.4 L451.0 726.0 L453.5 731.0 L454.8 733.1 L457.0 735.0 L457.9 739.4 L459.5 737.5 L461.0 738.5 L462.6 739.0 L464.2 738.8 L465.5 733.0 L467.4 735.2 L468.9 733.0 L470.0 729.4 L472.5 733.0 L473.7 734.1 L474.7 734.0 L477.0 731.0 L479.0 729.4 L480.0 730.9 L482.0 733.0 L483.1 736.8 L485.3 734.0 L486.2 735.0 L487.8 734.6 L489.0 730.0 L491.0 730.4 L493.0 728.0 L494.1 731.0 L495.7 733.7 L497.0 731.0 L498.8 734.0 L500.5 732.4 L502.0 733.9 L504.0 735.0 L505.1 740.4 L506.7 736.5 L508.0 737.0 L510.5 732.0 L511.4 730.6 L512.6 728.0 L515.0 728.0 L516.1 729.4 L517.7 731.3 L519.0 730.0 L520.9 732.6 L522.6 732.4 L524.0 734.3 L525.5 735.0 L527.2 740.9 L528.6 737.0 L530.3 739.2 L531.9 738.3 L533.0 737.0 L535.0 738.9 L536.6 738.8 L537.7 738.5 L539.8 739.8 L541.3 743.6 L542.3 740.0 L545.0 730.0 L546.1 729.1 L547.7 720.3 L549.2 725.3 L550.5 728.0 L553.0 734.0 L553.9 739.0 L555.5 741.3 L557.4 738.5 L558.6 740.5 L560.0 732.0 L561.8 731.3 L563.0 726.4 L565.0 733.0 L567.0 738.5 L568.1 740.1 L569.7 742.8 L571.2 741.9 L572.6 741.5 L574.4 738.8 L576.0 735.0 L577.5 734.5 L579.0 729.4 L580.7 731.3 L582.5 733.0 L583.8 736.7 L586.0 735.5 L587.0 737.2 L588.5 739.8 L590.1 741.5 L591.4 741.5 L594.0 737.0 L594.8 737.3 L596.8 734.0 L598.0 740.9 L600.0 738.0 L601.1 739.6 L603.0 740.0 L604.3 743.0 L606.0 736.0 L607.4 734.5 L609.0 732.4 L610.6 735.7 L612.1 740.6 L613.5 741.5 L615.3 741.1 L616.5 737.0 L618.4 735.3 L619.5 734.0 L621.5 724.0 L623.5 715.0 L624.7 723.8 L625.5 725.0 L626.3 728.9 L627.7 734.0 L629.5 738.2 L631.0 739.4 L633.0 741.5 L634.2 741.0 L635.8 742.1 L637.7 737.0 L638.9 735.2 L640.0 733.0 L642.3 729.4 L643.6 737.0 L644.5 736.0 L646.8 741.5 L648.3 741.6 L650.0 738.0 L651.5 738.2 L653.0 735.5 L654.6 733.9 L655.5 732.0 L658.0 728.5 L659.4 733.8 L660.5 734.0 L662.5 740.3 L663.5 738.5 L665.7 744.1 L666.5 739.0 L669.5 741.5 L670.4 740.9 L672.0 737.0 L674.0 734.0 L675.5 735.0 L675.5 741.2 L674.0 743.7 L672.0 747.6 L670.4 750.4 L669.5 746.1 L666.5 747.7 L665.7 746.6 L663.5 744.7 L662.5 746.5 L660.5 744.3 L659.4 742.3 L658.0 738.5 L655.5 740.8 L654.6 743.3 L653.0 744.1 L651.5 746.8 L650.0 746.1 L648.3 749.6 L646.8 748.8 L644.5 745.5 L643.6 745.1 L642.3 741.9 L640.0 745.1 L638.9 745.2 L637.7 743.9 L635.8 746.5 L634.2 748.8 L633.0 747.5 L631.0 747.9 L629.5 744.1 L627.7 743.4 L626.3 739.0 L625.5 740.6 L624.7 732.5 L623.5 729.1 L621.5 739.0 L619.5 742.4 L618.4 743.7 L616.5 746.3 L615.3 748.6 L613.5 750.0 L612.1 749.2 L610.6 745.2 L609.0 743.0 L607.4 743.4 L606.0 745.5 L604.3 745.5 L603.0 749.4 L601.1 747.6 L600.0 747.3 L598.0 743.4 L596.8 743.8 L594.8 745.6 L594.0 748.9 L591.4 748.8 L590.1 748.0 L588.5 748.0 L587.0 746.0 L586.0 745.6 L583.8 741.9 L582.5 740.6 L580.7 738.4 L579.0 738.4 L577.5 741.0 L576.0 748.6 L574.4 745.1 L572.6 747.3 L571.2 746.8 L569.7 748.8 L568.1 746.6 L567.0 746.5 L565.0 743.5 L563.0 739.3 L561.8 737.1 L560.0 743.6 L558.6 747.4 L557.4 745.7 L555.5 745.8 L553.9 741.5 L553.0 738.9 L550.5 739.9 L549.2 736.4 L547.7 732.4 L546.1 740.7 L545.0 742.7 L542.3 748.4 L541.3 746.1 L539.8 748.6 L537.7 748.5 L536.6 745.3 L535.0 747.1 L533.0 744.7 L531.9 745.5 L530.3 744.4 L528.6 743.5 L527.2 743.4 L525.5 745.7 L524.0 743.7 L522.6 744.2 L520.9 740.0 L519.0 737.6 L517.7 738.2 L516.1 736.2 L515.0 737.2 L512.6 738.0 L511.4 742.2 L510.5 744.7 L508.0 744.9 L506.7 742.4 L505.1 742.9 L504.0 743.8 L502.0 742.5 L500.5 741.5 L498.8 740.4 L497.0 739.0 L495.7 738.6 L494.1 738.7 L493.0 734.0 L491.0 736.8 L489.0 735.9 L487.8 740.1 L486.2 741.5 L485.3 741.8 L483.1 742.2 L482.0 739.6 L480.0 736.6 L479.0 735.7 L477.0 740.8 L474.7 740.2 L473.7 740.4 L472.5 741.5 L470.0 741.3 L468.9 737.9 L467.4 741.1 L465.5 741.2 L464.2 742.7 L462.6 743.6 L461.0 744.7 L459.5 747.3 L457.9 742.5 L457.0 744.4 L454.8 743.1 L453.5 739.1 L451.0 739.0 L450.1 734.8 L449.0 730.8 L446.9 729.3 L446.0 731.5 L443.8 728.1 L443.0 733.9 L442.2 734.3 L440.5 741.7 L438.3 747.4 L437.5 744.9 L435.3 740.3 L434.3 741.0 L433.0 743.7 L430.8 741.8 L429.6 742.9 L428.5 742.3 L426.2 735.9 L424.9 737.4 L423.0 739.8 L421.7 745.3 L420.0 747.8 L418.6 745.1 L417.0 742.7 L415.5 739.3 L413.9 740.6 L412.3 742.0 L411.0 739.1 L409.1 738.3 L408.0 738.0 L406.0 741.6 L405.0 741.9 L402.8 742.5 L402.0 744.9 L399.0 738.3 L398.1 738.6 L396.0 743.4 L395.0 745.0 L393.0 745.9 L391.8 745.6 L390.0 744.2 L388.7 742.7 L386.8 738.7 L385.5 741.8 L384.5 735.8 L382.3 727.6 L380.8 732.5 L379.5 734.0 L377.7 739.1 L376.2 735.9 L374.5 738.5 L372.9 736.2 L371.7 734.4 L369.8 738.8 L368.6 739.4 L366.6 744.0 L365.1 736.3 L364.0 732.3 L361.9 731.4 L360.3 731.6 L359.5 735.2 L357.2 735.6 L355.0 737.2 L354.1 736.5 L352.6 735.6 L350.9 738.8 L349.0 739.7 L347.8 740.1 L346.2 744.5 L345.0 738.9 L343.0 741.4 L341.5 733.6 L340.5 729.4 L338.3 735.4 L337.0 736.7 L335.2 743.1 L333.0 748.0 L332.0 742.9 L330.4 744.6 L329.0 742.6 L327.3 741.6 L325.3 735.9 L324.1 741.3 L322.5 748.8 L321.0 747.9 L320.0 753.7 L318.2 749.4 L317.4 739.1 L316.3 723.3 L315.2 734.7 L314.6 741.4 L313.0 741.2 L311.0 739.5 L310.0 738.8 L308.6 738.3 L306.8 738.5 L305.3 738.5 L304.0 737.8 L302.1 738.2 L300.5 739.5 L299.5 738.4 L297.4 738.6 L295.5 738.8 L294.2 737.6 L292.0 740.6 L291.1 736.9 L289.0 740.3 L288.0 739.2 L286.0 739.5 L284.8 740.9 L283.5 746.5 L281.4 749.6 L280.1 751.6 L278.5 746.3 L276.9 740.9 L275.3 742.0 L273.8 738.3 L272.0 731.3 L270.6 731.0 L269.0 726.0 L267.5 728.6 L266.0 732.7 L264.3 733.5 L263.0 737.4 L261.2 736.6 L260.0 731.7 L258.1 731.9 L257.0 731.5 L254.9 731.3 L254.0 735.1 L251.8 735.9 L251.0 738.9 L250.2 735.1 L248.0 732.3 L247.0 729.4 L245.0 730.8 L243.9 734.6 L243.0 736.3 L240.5 742.1 L239.2 743.3 L238.0 737.4 L236.0 730.5 L234.4 721.0 L232.9 713.7 L231.3 703.7 L230.0 703.1 L227.7 703.5 L226.6 706.0 L225.0 708.7 L223.4 712.1 L222.3 715.6 L220.3 713.3 L218.5 715.6 L217.1 717.4 L215.6 716.3 L214.7 718.6 L212.4 713.3 L210.5 711.8 L209.3 710.1 L207.0 709.4 L206.1 711.4 L204.0 710.4 L203.0 706.8 L201.0 703.5 L199.8 702.8 L198.3 703.3 L196.7 701.3 L194.5 694.3 L193.5 695.1 L192.0 694.6 L190.8 692.4 L188.8 689.8 L187.5 686.3 L185.7 685.6 L184.3 685.4 L182.5 687.7 L181.5 677.4 L179.0 666.6 L177.8 668.3 L176.8 668.5 L174.0 664.2 L173.1 656.6 L171.2 652.0 L169.9 654.5 L168.4 647.4 L166.5 642.0 L164.7 651.3 L163.0 666.2 L162.1 669.8 L161.0 667.6 L159.0 668.9 L157.3 671.7 L156.0 678.4 L153.5 683.2 L152.6 680.6 L150.7 675.6 L149.0 679.0 L147.5 666.5 L146.3 655.7 L145.5 657.8 L144.7 663.7 L143.2 659.5 L141.5 661.9 L139.5 657.3 L138.2 659.9 L137.0 638.6 L135.5 632.2 L134.0 627.0 L132.5 638.7 L131.0 624.8 L129.0 603.3 L127.8 610.0 L127.2 611.7 L125.9 612.6 L124.3 618.2 L123.5 626.0 L123.0 643.9 L122.5 647.1 L120.9 645.8 L119.0 643.8 L118.0 639.7 L117.0 644.1 L115.5 683.0 L114.0 723.8 L112.5 743.6 L111.0 748.7 L110.1 750.8 L109.0 753.9 L107.0 755.4 L105.0 755.2 L103.8 756.7 L101.5 757.9 L100.7 758.0 L99.5 757.1 Z" fill="#b8b8b8" stroke="#000" stroke-width="1.2" stroke-linejoin="round"/>
<path d="M99.5 729.0 L101.3 734.5 L102.2 732.6 L103.8 729.4 L105.5 726.0 L106.9 730.0 L109.0 722.0 L110.3 715.0 L111.0 690.0 L111.6 600.0 L112.6 520.0 L113.4 507.4 L113.9 499.5 L114.5 490.0 L116.0 475.6 L118.0 490.6 L119.2 499.7 L121.1 489.2 L121.9 485.0 L123.0 451.4 L124.4 436.4 L125.0 430.0 L125.9 427.1 L127.5 415.0 L129.7 399.5 L130.6 407.8 L132.4 415.0 L133.9 445.0 L136.0 443.0 L136.9 450.7 L138.0 451.4 L140.2 472.4 L141.6 477.7 L143.2 482.0 L144.4 480.8 L146.3 481.6 L147.5 479.8 L149.5 488.3 L151.7 489.0 L152.6 495.4 L154.2 494.6 L156.0 497.6 L157.3 504.6 L159.0 510.0 L160.5 500.5 L162.2 489.0 L163.6 480.2 L165.0 471.4 L166.8 483.8 L168.5 491.0 L169.9 491.9 L171.7 485.0 L173.1 496.8 L175.0 497.6 L176.2 504.9 L177.0 503.8 L177.8 505.2 L179.4 508.8 L181.4 510.8 L182.5 519.6 L184.0 530.0 L186.0 548.0 L187.2 552.7 L188.8 559.9 L190.8 564.6 L192.0 567.1 L193.0 560.0 L195.0 558.0 L196.7 556.6 L197.8 554.0 L199.5 553.6 L202.0 568.0 L203.0 578.5 L204.8 574.0 L206.1 592.6 L207.0 585.5 L209.3 591.5 L210.8 595.6 L211.7 597.6 L214.0 594.6 L216.2 582.4 L217.1 589.5 L218.7 593.4 L220.8 599.0 L221.9 599.0 L224.0 594.0 L225.0 597.4 L226.6 595.1 L228.3 591.5 L229.7 593.7 L232.0 596.0 L232.9 598.9 L234.4 599.7 L236.0 594.5 L237.6 610.1 L239.8 628.0 L240.7 622.9 L242.3 614.3 L244.0 600.0 L245.5 592.8 L247.0 584.6 L248.0 578.0 L250.2 601.1 L251.8 605.7 L252.6 609.7 L254.9 610.2 L256.0 604.0 L258.1 609.5 L260.0 606.7 L261.2 610.0 L262.8 610.0 L264.0 610.0 L265.9 613.3 L267.7 615.8 L269.1 617.2 L270.8 611.0 L272.2 617.7 L273.8 619.1 L275.0 620.0 L276.9 625.3 L278.3 628.0 L280.1 624.8 L281.7 620.5 L283.0 617.0 L284.8 619.7 L286.4 625.9 L287.4 622.0 L289.5 624.4 L291.1 623.2 L292.6 615.8 L294.2 625.1 L296.0 622.0 L297.4 624.7 L299.5 628.0 L300.5 629.3 L302.1 625.6 L303.0 624.0 L305.3 626.3 L307.0 626.0 L308.4 626.5 L310.0 622.0 L311.6 629.6 L313.0 628.0 L314.6 600.0 L315.6 575.0 L316.8 574.0 L318.0 610.0 L319.2 646.0 L321.0 646.4 L322.0 638.0 L324.1 635.1 L325.3 631.0 L327.3 636.3 L329.0 638.0 L330.4 643.6 L332.0 650.9 L333.0 644.5 L335.2 632.1 L337.0 620.0 L338.3 616.0 L340.5 602.0 L341.5 608.8 L343.0 618.0 L345.0 631.0 L346.2 631.0 L347.8 629.2 L349.5 622.0 L350.9 629.6 L352.5 634.6 L354.0 640.0 L355.6 635.0 L357.0 630.0 L358.8 628.2 L361.0 625.0 L361.9 627.5 L363.5 632.1 L365.6 637.0 L366.6 635.2 L368.2 633.6 L370.0 628.0 L371.4 635.2 L372.9 637.6 L374.5 639.5 L376.0 643.0 L377.7 639.2 L379.0 628.0 L380.8 624.6 L382.3 617.0 L384.5 630.0 L385.5 642.0 L386.8 649.0 L388.7 655.4 L390.0 656.0 L391.8 660.2 L393.0 661.0 L395.0 653.9 L396.0 648.0 L398.1 641.8 L399.0 637.0 L402.0 642.0 L402.8 645.1 L405.0 644.5 L406.0 648.6 L408.0 652.0 L409.1 656.1 L411.0 658.0 L412.3 660.9 L413.9 650.9 L415.6 644.5 L417.0 656.0 L418.0 655.0 L420.0 664.0 L421.7 653.8 L423.0 645.0 L424.9 636.1 L426.0 629.4 L428.0 640.7 L429.0 638.0 L431.2 645.0 L432.3 646.0 L434.3 646.7 L435.3 637.0 L437.5 642.6 L438.3 643.0 L441.0 625.0 L442.2 620.9 L443.5 609.7 L446.0 620.0 L446.9 624.1 L449.0 631.0 L450.1 636.3 L451.6 643.5 L453.5 647.6 L454.8 648.1 L456.3 649.6 L458.0 647.6 L459.5 654.7 L461.1 661.5 L462.6 664.0 L464.2 658.2 L466.0 648.0 L467.4 648.5 L468.9 636.9 L470.0 631.0 L472.5 648.0 L473.7 656.3 L474.7 661.0 L476.8 656.1 L479.0 644.5 L480.0 650.9 L482.0 652.0 L483.1 658.3 L485.3 658.0 L486.2 657.2 L487.8 654.3 L489.0 650.0 L491.0 650.7 L493.0 641.5 L494.1 646.7 L496.0 652.0 L497.3 661.7 L499.0 659.7 L500.4 663.2 L502.0 662.5 L503.0 656.0 L505.1 661.2 L506.5 664.0 L508.3 660.0 L509.5 650.0 L511.4 646.7 L512.6 634.0 L515.0 634.0 L516.1 637.5 L518.0 632.4 L520.0 645.0 L520.9 651.3 L522.6 656.7 L524.0 656.7 L525.6 655.8 L527.0 655.0 L528.7 659.1 L530.3 661.7 L531.7 662.7 L533.5 660.2 L534.5 657.0 L536.6 659.7 L537.7 659.7 L539.8 667.1 L541.3 670.9 L542.3 667.0 L545.0 658.0 L546.1 657.7 L547.7 649.0 L549.2 655.4 L550.5 656.0 L553.0 664.0 L553.9 673.1 L556.0 673.0 L557.1 671.2 L558.6 670.4 L559.5 662.0 L561.8 660.2 L563.0 652.0 L564.9 668.2 L566.5 673.0 L568.1 672.1 L569.7 675.9 L571.0 668.8 L572.8 671.7 L574.4 675.3 L575.6 673.0 L578.0 662.0 L579.1 659.7 L580.0 653.6 L582.2 663.5 L583.0 664.0 L583.8 671.9 L586.0 673.0 L587.0 673.9 L589.0 672.0 L590.1 674.8 L592.3 668.8 L593.3 675.7 L594.8 673.7 L596.4 675.2 L598.3 678.0 L599.6 680.7 L601.0 676.0 L602.7 680.6 L604.4 679.4 L605.9 679.6 L607.0 672.0 L609.5 665.8 L610.6 669.5 L612.0 674.0 L613.7 682.3 L615.0 681.0 L616.9 678.8 L618.4 672.9 L619.5 667.0 L621.5 650.0 L623.5 637.0 L624.7 648.9 L625.5 655.0 L626.3 662.3 L627.7 673.0 L629.5 679.7 L631.7 682.4 L632.6 681.3 L634.2 680.7 L636.0 671.8 L637.3 677.5 L638.9 685.7 L640.8 684.0 L642.1 682.9 L643.6 681.4 L645.3 676.4 L646.8 679.8 L649.0 678.0 L649.9 679.6 L651.5 677.2 L653.0 674.8 L654.6 670.4 L656.0 666.0 L658.0 658.0 L659.4 669.1 L660.5 675.0 L662.5 691.6 L663.5 691.5 L665.7 688.4 L667.2 685.3 L668.0 681.0 L668.8 681.5 L671.0 679.0 L672.0 684.7 L674.0 684.0 L675.5 683.0 L675.5 691.2 L674.0 690.7 L672.0 689.9 L671.0 691.0 L668.8 691.7 L668.0 692.8 L667.2 695.8 L665.7 695.7 L663.5 696.3 L662.5 699.3 L660.5 694.5 L659.4 681.8 L658.0 677.5 L656.0 680.8 L654.6 681.5 L653.0 681.6 L651.5 684.9 L649.9 684.5 L649.0 683.5 L646.8 683.3 L645.3 688.0 L643.6 688.9 L642.1 689.7 L640.8 693.0 L638.9 691.9 L637.3 688.4 L636.0 686.8 L634.2 687.6 L632.6 690.3 L631.7 687.9 L629.5 688.0 L627.7 685.0 L626.3 680.0 L625.5 672.6 L624.7 664.7 L623.5 657.0 L621.5 669.4 L619.5 681.0 L618.4 684.6 L616.9 685.3 L615.0 689.8 L613.7 690.1 L612.0 688.9 L610.6 687.0 L609.5 681.8 L607.0 685.4 L605.9 685.8 L604.4 686.0 L602.7 687.8 L601.0 687.1 L599.6 686.6 L598.3 685.1 L596.4 683.7 L594.8 684.2 L593.3 681.9 L592.3 678.1 L590.1 679.7 L589.0 679.1 L587.0 679.9 L586.0 681.5 L583.8 681.6 L583.0 677.4 L582.2 677.9 L580.0 671.4 L579.1 676.6 L578.0 681.2 L575.6 682.0 L574.4 681.5 L572.8 681.5 L571.0 678.4 L569.7 681.7 L568.1 682.1 L566.5 683.5 L564.9 680.4 L563.0 669.6 L561.8 672.6 L559.5 677.4 L558.6 680.3 L557.1 684.2 L556.0 681.3 L553.9 679.0 L553.0 680.1 L550.5 673.5 L549.2 669.8 L547.7 668.0 L546.1 673.5 L545.0 677.0 L542.3 677.7 L541.3 678.1 L539.8 676.2 L537.7 672.1 L536.6 670.0 L534.5 670.2 L533.5 673.6 L531.7 674.6 L530.3 671.0 L528.7 671.4 L527.0 669.1 L525.6 666.9 L524.0 666.7 L522.6 667.2 L520.9 666.5 L520.0 661.0 L518.0 648.9 L516.1 645.4 L515.0 644.0 L512.6 653.5 L511.4 660.4 L509.5 668.7 L508.3 672.9 L506.5 673.9 L505.1 673.2 L503.0 669.7 L502.0 669.3 L500.4 668.9 L499.0 670.7 L497.3 669.2 L496.0 669.8 L494.1 665.2 L493.0 659.4 L491.0 658.7 L489.0 664.8 L487.8 668.5 L486.2 668.9 L485.3 668.9 L483.1 667.5 L482.0 665.2 L480.0 661.7 L479.0 661.4 L476.8 674.2 L474.7 668.4 L473.7 668.7 L472.5 667.4 L470.0 647.7 L468.9 652.8 L467.4 660.7 L466.0 664.4 L464.2 672.4 L462.6 672.8 L461.1 674.1 L459.5 667.8 L458.0 664.0 L456.3 658.3 L454.8 659.5 L453.5 658.2 L451.6 657.6 L450.1 653.1 L449.0 650.3 L446.9 639.9 L446.0 636.3 L443.5 627.7 L442.2 637.4 L441.0 641.8 L438.3 652.0 L437.5 651.1 L435.3 653.1 L434.3 654.4 L432.3 654.5 L431.2 655.5 L429.0 654.5 L428.0 648.1 L426.0 645.2 L424.9 650.6 L423.0 664.0 L421.7 670.9 L420.0 673.9 L418.0 671.9 L417.0 669.2 L415.6 665.1 L413.9 667.9 L412.3 667.1 L411.0 667.9 L409.1 664.5 L408.0 666.4 L406.0 663.1 L405.0 659.5 L402.8 657.1 L402.0 654.0 L399.0 653.7 L398.1 660.7 L396.0 666.6 L395.0 667.4 L393.0 673.1 L391.8 672.6 L390.0 669.7 L388.7 666.3 L386.8 665.0 L385.5 655.3 L384.5 648.3 L382.3 636.9 L380.8 639.5 L379.0 643.8 L377.7 653.7 L376.0 651.9 L374.5 651.2 L372.9 650.8 L371.4 647.2 L370.0 643.9 L368.2 645.1 L366.6 644.2 L365.6 644.9 L363.5 646.4 L361.9 644.7 L361.0 640.5 L358.8 641.3 L357.0 644.3 L355.6 650.5 L354.0 647.6 L352.5 649.0 L350.9 644.9 L349.5 640.7 L347.8 641.2 L346.2 641.7 L345.0 639.4 L343.0 635.9 L341.5 626.2 L340.5 618.8 L338.3 630.5 L337.0 637.3 L335.2 649.1 L333.0 653.9 L332.0 653.4 L330.4 653.6 L329.0 652.3 L327.3 649.8 L325.3 647.2 L324.1 647.0 L322.0 654.8 L321.0 656.2 L319.2 657.4 L318.0 626.9 L316.8 591.5 L315.6 593.5 L314.6 616.7 L313.0 637.7 L311.6 637.6 L310.0 638.2 L308.4 638.2 L307.0 636.8 L305.3 637.4 L303.0 637.0 L302.1 637.2 L300.5 638.9 L299.5 636.6 L297.4 637.9 L296.0 636.6 L294.2 636.0 L292.6 630.1 L291.1 631.6 L289.5 634.3 L287.4 633.2 L286.4 632.8 L284.8 633.2 L283.0 635.0 L281.7 634.8 L280.1 639.0 L278.3 638.8 L276.9 638.6 L275.0 637.3 L273.8 632.2 L272.2 629.0 L270.8 627.3 L269.1 629.1 L267.7 627.6 L265.9 625.3 L264.0 625.3 L262.8 623.4 L261.2 621.7 L260.0 618.9 L258.1 620.5 L256.0 618.4 L254.9 619.6 L252.6 620.0 L251.8 622.6 L250.2 609.0 L248.0 593.9 L247.0 600.4 L245.5 609.7 L244.0 620.7 L242.3 626.8 L240.7 638.4 L239.8 642.1 L237.6 626.7 L236.0 611.1 L234.4 609.2 L232.9 605.7 L232.0 608.3 L229.7 604.5 L228.3 605.9 L226.6 605.2 L225.0 608.5 L224.0 608.1 L221.9 609.0 L220.8 611.3 L218.7 610.5 L217.1 602.1 L216.2 601.1 L214.0 604.4 L211.7 606.3 L210.8 606.4 L209.3 608.1 L207.0 604.9 L206.1 597.8 L204.8 589.6 L203.0 588.9 L202.0 584.5 L199.5 568.2 L197.8 568.5 L196.7 567.0 L195.0 574.3 L193.0 575.3 L192.0 573.6 L190.8 574.9 L188.8 575.1 L187.2 567.5 L186.0 560.8 L184.0 540.7 L182.5 528.3 L181.4 519.8 L179.4 516.1 L177.8 513.2 L177.0 511.8 L176.2 512.1 L175.0 512.6 L173.1 507.6 L171.7 504.0 L169.9 502.9 L168.5 502.0 L166.8 493.8 L165.0 485.4 L163.6 508.7 L162.2 527.0 L160.5 525.8 L159.0 531.0 L157.3 522.1 L156.0 514.6 L154.2 509.3 L152.6 504.7 L151.7 502.0 L149.5 496.3 L147.5 491.3 L146.3 490.7 L144.4 489.8 L143.2 488.4 L141.6 486.5 L140.2 484.9 L138.0 472.4 L136.9 468.2 L136.0 465.0 L133.9 460.0 L132.4 441.8 L130.6 438.9 L129.7 436.5 L127.5 454.4 L125.9 482.5 L125.0 500.8 L124.4 514.5 L123.0 511.4 L121.9 505.0 L121.1 505.3 L119.2 506.0 L118.0 507.9 L116.0 511.0 L114.5 555.0 L113.9 600.0 L113.4 690.0 L112.6 721.0 L111.6 726.0 L111.0 729.0 L110.3 731.5 L109.0 736.0 L106.9 740.9 L105.5 733.0 L103.8 735.8 L102.2 738.4 L101.3 740.0 L99.5 737.0 Z" fill="#ff8080" stroke="#ff8080" stroke-width="1.6" stroke-linejoin="round"/>
<path d="M99.5 737.0 L101.3 740.0 L102.2 738.4 L103.8 735.8 L105.5 733.0 L106.9 740.9 L109.0 736.0 L110.3 731.5 L111.0 729.0 L111.6 726.0 L112.6 721.0 L113.4 690.0 L113.9 600.0 L114.5 555.0 L116.0 511.0 L118.0 507.9 L119.2 506.0 L121.1 505.3 L121.9 505.0 L123.0 511.4 L124.4 514.5 L125.0 500.8 L125.9 482.5 L127.5 454.4 L129.7 436.5 L130.6 438.9 L132.4 441.8 L133.9 460.0 L136.0 465.0 L136.9 468.2 L138.0 472.4 L140.2 484.9 L141.6 486.5 L143.2 488.4 L144.4 489.8 L146.3 490.7 L147.5 491.3 L149.5 496.3 L151.7 502.0 L152.6 504.7 L154.2 509.3 L156.0 514.6 L157.3 522.1 L159.0 531.0 L160.5 525.8 L162.2 527.0 L163.6 508.7 L165.0 485.4 L166.8 493.8 L168.5 502.0 L169.9 502.9 L171.7 504.0 L173.1 507.6 L175.0 512.6 L176.2 512.1 L177.0 511.8 L177.8 513.2 L179.4 516.1 L181.4 519.8 L182.5 528.3 L184.0 540.7 L186.0 560.8 L187.2 567.5 L188.8 575.1 L190.8 574.9 L192.0 573.6 L193.0 575.3 L195.0 574.3 L196.7 567.0 L197.8 568.5 L199.5 568.2 L202.0 584.5 L203.0 588.9 L204.8 589.6 L206.1 597.8 L207.0 604.9 L209.3 608.1 L210.8 606.4 L211.7 606.3 L214.0 604.4 L216.2 601.1 L217.1 602.1 L218.7 610.5 L220.8 611.3 L221.9 609.0 L224.0 608.1 L225.0 608.5 L226.6 605.2 L228.3 605.9 L229.7 604.5 L232.0 608.3 L232.9 605.7 L234.4 609.2 L236.0 611.1 L237.6 626.7 L239.8 642.1 L240.7 638.4 L242.3 626.8 L244.0 620.7 L245.5 609.7 L247.0 600.4 L248.0 593.9 L250.2 609.0 L251.8 622.6 L252.6 620.0 L254.9 619.6 L256.0 618.4 L258.1 620.5 L260.0 618.9 L261.2 621.7 L262.8 623.4 L264.0 625.3 L265.9 625.3 L267.7 627.6 L269.1 629.1 L270.8 627.3 L272.2 629.0 L273.8 632.2 L275.0 637.3 L276.9 638.6 L278.3 638.8 L280.1 639.0 L281.7 634.8 L283.0 635.0 L284.8 633.2 L286.4 632.8 L287.4 633.2 L289.5 634.3 L291.1 631.6 L292.6 630.1 L294.2 636.0 L296.0 636.6 L297.4 637.9 L299.5 636.6 L300.5 638.9 L302.1 637.2 L303.0 637.0 L305.3 637.4 L307.0 636.8 L308.4 638.2 L310.0 638.2 L311.6 637.6 L313.0 637.7 L314.6 616.7 L315.6 593.5 L316.8 591.5 L318.0 626.9 L319.2 657.4 L321.0 656.2 L322.0 654.8 L324.1 647.0 L325.3 647.2 L327.3 649.8 L329.0 652.3 L330.4 653.6 L332.0 653.4 L333.0 653.9 L335.2 649.1 L337.0 637.3 L338.3 630.5 L340.5 618.8 L341.5 626.2 L343.0 635.9 L345.0 639.4 L346.2 641.7 L347.8 641.2 L349.5 640.7 L350.9 644.9 L352.5 649.0 L354.0 647.6 L355.6 650.5 L357.0 644.3 L358.8 641.3 L361.0 640.5 L361.9 644.7 L363.5 646.4 L365.6 644.9 L366.6 644.2 L368.2 645.1 L370.0 643.9 L371.4 647.2 L372.9 650.8 L374.5 651.2 L376.0 651.9 L377.7 653.7 L379.0 643.8 L380.8 639.5 L382.3 636.9 L384.5 648.3 L385.5 655.3 L386.8 665.0 L388.7 666.3 L390.0 669.7 L391.8 672.6 L393.0 673.1 L395.0 667.4 L396.0 666.6 L398.1 660.7 L399.0 653.7 L402.0 654.0 L402.8 657.1 L405.0 659.5 L406.0 663.1 L408.0 666.4 L409.1 664.5 L411.0 667.9 L412.3 667.1 L413.9 667.9 L415.6 665.1 L417.0 669.2 L418.0 671.9 L420.0 673.9 L421.7 670.9 L423.0 664.0 L424.9 650.6 L426.0 645.2 L428.0 648.1 L429.0 654.5 L431.2 655.5 L432.3 654.5 L434.3 654.4 L435.3 653.1 L437.5 651.1 L438.3 652.0 L441.0 641.8 L442.2 637.4 L443.5 627.7 L446.0 636.3 L446.9 639.9 L449.0 650.3 L450.1 653.1 L451.6 657.6 L453.5 658.2 L454.8 659.5 L456.3 658.3 L458.0 664.0 L459.5 667.8 L461.1 674.1 L462.6 672.8 L464.2 672.4 L466.0 664.4 L467.4 660.7 L468.9 652.8 L470.0 647.7 L472.5 667.4 L473.7 668.7 L474.7 668.4 L476.8 674.2 L479.0 661.4 L480.0 661.7 L482.0 665.2 L483.1 667.5 L485.3 668.9 L486.2 668.9 L487.8 668.5 L489.0 664.8 L491.0 658.7 L493.0 659.4 L494.1 665.2 L496.0 669.8 L497.3 669.2 L499.0 670.7 L500.4 668.9 L502.0 669.3 L503.0 669.7 L505.1 673.2 L506.5 673.9 L508.3 672.9 L509.5 668.7 L511.4 660.4 L512.6 653.5 L515.0 644.0 L516.1 645.4 L518.0 648.9 L520.0 661.0 L520.9 666.5 L522.6 667.2 L524.0 666.7 L525.6 666.9 L527.0 669.1 L528.7 671.4 L530.3 671.0 L531.7 674.6 L533.5 673.6 L534.5 670.2 L536.6 670.0 L537.7 672.1 L539.8 676.2 L541.3 678.1 L542.3 677.7 L545.0 677.0 L546.1 673.5 L547.7 668.0 L549.2 669.8 L550.5 673.5 L553.0 680.1 L553.9 679.0 L556.0 681.3 L557.1 684.2 L558.6 680.3 L559.5 677.4 L561.8 672.6 L563.0 669.6 L564.9 680.4 L566.5 683.5 L568.1 682.1 L569.7 681.7 L571.0 678.4 L572.8 681.5 L574.4 681.5 L575.6 682.0 L578.0 681.2 L579.1 676.6 L580.0 671.4 L582.2 677.9 L583.0 677.4 L583.8 681.6 L586.0 681.5 L587.0 679.9 L589.0 679.1 L590.1 679.7 L592.3 678.1 L593.3 681.9 L594.8 684.2 L596.4 683.7 L598.3 685.1 L599.6 686.6 L601.0 687.1 L602.7 687.8 L604.4 686.0 L605.9 685.8 L607.0 685.4 L609.5 681.8 L610.6 687.0 L612.0 688.9 L613.7 690.1 L615.0 689.8 L616.9 685.3 L618.4 684.6 L619.5 681.0 L621.5 669.4 L623.5 657.0 L624.7 664.7 L625.5 672.6 L626.3 680.0 L627.7 685.0 L629.5 688.0 L631.7 687.9 L632.6 690.3 L634.2 687.6 L636.0 686.8 L637.3 688.4 L638.9 691.9 L640.8 693.0 L642.1 689.7 L643.6 688.9 L645.3 688.0 L646.8 683.3 L649.0 683.5 L649.9 684.5 L651.5 684.9 L653.0 681.6 L654.6 681.5 L656.0 680.8 L658.0 677.5 L659.4 681.8 L660.5 694.5 L662.5 699.3 L663.5 696.3 L665.7 695.7 L667.2 695.8 L668.0 692.8 L668.8 691.7 L671.0 691.0 L672.0 689.9 L674.0 690.7 L675.5 691.2" fill="none" stroke="#ff0000" stroke-width="2.3" stroke-linejoin="round"/>
<clipPath id="pb1"><path d="M99.1 772.1 L99.5 772.1 L100.7 772.1 L102.2 772.1 L103.8 772.1 L105.4 772.1 L107.0 772.1 L108.5 772.1 L110.1 772.1 L110.3 772.1 L111.6 775.8 L111.7 776.1 L113.3 781.2 L113.8 783.4 L114.8 785.3 L116.0 788.2 L116.4 788.2 L118.0 788.5 L118.6 789.0 L119.6 788.0 L121.1 787.5 L121.3 787.2 L122.7 786.1 L123.9 784.8 L124.3 784.3 L125.8 783.3 L126.5 783.0 L127.4 782.7 L129.0 781.7 L130.0 780.9 L130.6 780.9 L132.2 780.4 L133.7 780.4 L134.4 779.8 L135.3 779.7 L136.9 779.0 L138.4 779.0 L138.8 778.6 L140.0 778.3 L141.6 778.5 L143.2 778.5 L143.2 778.1 L144.7 777.8 L146.3 778.0 L147.5 777.7 L147.9 777.2 L149.5 777.5 L151.0 776.6 L152.0 775.9 L152.6 776.0 L154.2 775.7 L155.0 775.8 L155.8 775.8 L157.3 775.3 L158.0 775.0 L158.9 775.8 L160.5 776.2 L162.0 776.5 L162.1 776.5 L163.6 777.8 L165.0 779.6 L165.2 778.9 L166.8 778.2 L167.5 777.0 L168.3 776.9 L169.9 776.1 L170.3 776.4 L171.5 776.0 L173.1 776.3 L174.6 776.5 L176.2 776.7 L177.3 776.7 L177.8 776.9 L179.4 776.6 L180.9 775.8 L182.5 775.5 L182.6 775.4 L184.1 775.6 L185.7 775.4 L187.2 775.3 L188.8 775.5 L190.4 775.6 L191.9 775.9 L193.5 775.6 L195.1 775.4 L196.7 775.3 L198.2 775.3 L199.8 775.2 L200.0 775.3 L201.4 775.5 L203.0 775.3 L204.5 775.1 L206.1 775.5 L207.7 775.3 L209.3 775.1 L210.8 775.1 L212.4 775.2 L214.0 775.1 L215.0 775.2 L215.6 775.2 L217.1 775.4 L218.7 775.2 L220.3 775.4 L221.8 775.2 L223.4 775.1 L225.0 775.5 L226.6 775.4 L228.2 775.2 L229.7 775.1 L231.3 775.0 L232.9 775.4 L234.4 775.3 L236.0 775.1 L237.6 775.5 L239.2 775.2 L240.7 775.5 L242.3 775.2 L243.9 775.3 L245.5 775.2 L247.0 775.3 L248.6 775.0 L250.0 775.7 L250.2 775.3 L251.8 775.1 L253.3 775.2 L254.9 775.4 L256.5 775.1 L258.1 775.3 L259.6 775.3 L261.2 775.2 L262.8 775.1 L264.4 775.2 L265.9 775.6 L267.5 775.2 L269.1 775.4 L270.6 775.4 L272.2 775.1 L273.8 775.4 L275.4 775.3 L276.9 775.0 L278.5 775.0 L280.1 775.0 L281.7 775.0 L283.2 775.5 L284.8 775.2 L286.4 775.3 L287.9 775.2 L289.5 775.0 L291.1 775.5 L292.7 775.2 L294.2 775.1 L295.8 775.1 L297.4 775.0 L299.0 775.2 L300.0 774.9 L300.5 775.0 L302.1 775.2 L302.5 775.3 L303.7 777.2 L304.0 777.3 L305.3 775.6 L305.5 775.6 L306.8 775.3 L308.4 775.2 L310.0 775.5 L311.6 775.1 L313.1 775.4 L314.7 775.1 L315.5 775.0 L316.3 777.4 L317.3 780.4 L317.9 779.0 L319.0 775.4 L319.4 775.1 L321.0 775.0 L322.6 775.2 L324.1 775.3 L325.7 775.3 L327.3 775.0 L328.9 775.2 L330.4 775.4 L332.0 775.0 L333.6 775.1 L335.2 775.0 L336.7 774.9 L338.3 775.1 L339.9 775.0 L341.5 775.4 L343.0 775.4 L344.6 775.0 L346.2 775.2 L347.8 775.5 L349.3 774.9 L350.9 775.1 L351.0 775.2 L352.5 776.4 L353.4 776.8 L354.1 776.5 L355.6 775.6 L356.0 775.0 L357.2 775.2 L358.8 775.1 L360.4 774.9 L361.9 775.0 L363.5 775.0 L365.1 775.4 L366.6 775.2 L368.2 775.3 L369.8 775.2 L371.4 775.1 L372.9 775.1 L374.5 774.9 L376.1 775.0 L377.7 775.1 L379.2 774.9 L380.8 775.6 L382.4 775.0 L383.9 774.9 L385.5 775.0 L387.1 775.1 L388.7 774.9 L390.2 775.2 L391.8 775.1 L393.4 775.0 L395.0 775.2 L396.5 775.1 L398.1 774.9 L399.7 775.1 L401.3 775.0 L402.8 775.0 L404.4 775.4 L406.0 775.3 L407.6 775.3 L409.1 775.0 L410.7 775.0 L412.0 775.2 L412.3 775.4 L413.9 776.2 L414.7 777.1 L415.4 776.3 L417.0 775.0 L418.6 775.5 L420.1 775.3 L421.7 775.2 L423.3 775.0 L424.9 774.9 L426.4 775.4 L428.0 775.4 L429.6 775.2 L431.2 775.1 L432.7 775.2 L434.3 775.1 L435.0 775.3 L435.9 776.7 L437.5 779.7 L437.5 779.8 L439.0 777.5 L440.0 775.7 L440.6 775.8 L442.2 776.1 L443.5 776.2 L443.8 776.6 L445.3 780.2 L446.0 781.5 L446.9 779.5 L448.5 775.3 L448.5 775.1 L450.1 775.2 L451.6 775.1 L453.2 775.6 L454.8 775.4 L456.4 775.2 L457.9 775.1 L459.5 775.2 L461.1 775.3 L462.6 775.6 L464.2 775.4 L465.8 775.3 L467.4 775.1 L468.9 775.5 L470.5 775.7 L472.1 775.1 L473.7 775.2 L475.2 775.1 L476.8 775.2 L478.4 775.1 L479.9 775.2 L481.5 775.2 L483.1 775.1 L484.7 775.3 L486.2 775.2 L487.8 775.1 L489.4 775.1 L491.0 775.0 L492.5 774.9 L494.1 775.3 L495.7 775.0 L497.3 775.0 L498.8 775.5 L500.0 775.1 L500.4 775.3 L502.0 775.0 L503.6 775.4 L505.1 775.5 L506.7 775.0 L508.3 775.2 L509.9 775.0 L511.4 775.0 L513.0 775.0 L514.6 775.3 L516.1 775.3 L517.7 775.4 L519.3 775.3 L520.9 775.1 L522.4 775.1 L524.0 775.1 L525.6 775.4 L527.2 775.0 L528.7 774.9 L530.3 775.1 L531.9 775.1 L533.5 775.4 L535.0 775.2 L536.6 775.1 L538.2 775.1 L539.8 774.9 L541.3 775.1 L542.9 775.0 L544.5 775.0 L546.0 775.0 L547.6 774.9 L549.2 775.0 L550.8 775.7 L552.4 775.1 L553.9 775.0 L555.5 774.9 L557.1 774.9 L558.6 775.3 L560.2 775.1 L561.8 775.1 L563.4 774.9 L564.9 775.1 L566.5 775.0 L568.1 774.9 L569.7 775.0 L571.2 775.1 L572.8 775.2 L574.4 775.0 L576.0 775.1 L577.5 774.8 L579.1 775.1 L580.7 775.0 L582.2 775.1 L583.8 775.0 L585.4 775.3 L587.0 775.1 L588.5 775.0 L590.1 775.3 L591.7 775.0 L593.3 775.0 L594.8 775.3 L596.4 774.9 L598.0 775.2 L599.6 774.9 L600.0 775.2 L601.1 775.0 L602.7 775.1 L604.3 775.2 L605.9 775.1 L607.4 775.3 L609.0 775.3 L610.6 775.2 L612.1 774.9 L613.7 775.0 L615.3 775.0 L616.9 775.1 L618.0 774.9 L618.4 775.3 L620.0 775.7 L621.6 776.0 L622.0 776.1 L623.2 775.8 L624.7 775.6 L626.3 775.2 L627.9 774.9 L628.0 775.1 L629.5 774.9 L631.0 775.1 L632.6 774.9 L634.2 774.8 L635.8 775.1 L637.3 775.1 L638.0 775.2 L638.9 775.6 L640.5 776.4 L641.0 776.8 L642.0 775.8 L643.0 775.3 L643.6 775.1 L645.2 775.3 L646.8 774.8 L648.4 775.6 L649.9 774.8 L651.5 774.9 L653.1 775.1 L654.6 775.5 L656.2 775.1 L657.8 775.0 L659.4 774.8 L660.9 774.9 L662.5 775.0 L664.1 774.9 L665.7 774.9 L667.2 774.8 L668.8 774.8 L670.4 774.9 L672.0 775.0 L673.5 774.8 L675.1 774.7 L675.5 774.8 L675.5 772.1 L99.1 772.1 Z"/></clipPath><g clip-path="url(#pb1)"><path d="M73.95 769.10 L96.80 791.95 M78.85 769.10 L101.70 791.95 M83.75 769.10 L106.60 791.95 M88.65 769.10 L111.50 791.95 M93.55 769.10 L116.40 791.95 M98.45 769.10 L121.30 791.95 M103.35 769.10 L126.20 791.95 M108.25 769.10 L131.10 791.95 M113.15 769.10 L136.00 791.95 M118.05 769.10 L140.90 791.95 M122.95 769.10 L145.80 791.95 M127.85 769.10 L150.70 791.95 M132.75 769.10 L155.60 791.95 M137.65 769.10 L160.50 791.95 M142.55 769.10 L165.40 791.95 M147.45 769.10 L170.30 791.95 M152.35 769.10 L175.20 791.95 M157.25 769.10 L180.10 791.95 M162.15 769.10 L185.00 791.95 M167.05 769.10 L189.90 791.95 M171.95 769.10 L194.80 791.95 M176.85 769.10 L199.70 791.95 M181.75 769.10 L204.60 791.95 M186.65 769.10 L209.50 791.95 M191.55 769.10 L214.40 791.95 M196.45 769.10 L219.30 791.95 M201.35 769.10 L224.20 791.95 M206.25 769.10 L229.10 791.95 M211.15 769.10 L234.00 791.95 M216.05 769.10 L238.90 791.95 M220.95 769.10 L243.80 791.95 M225.85 769.10 L248.70 791.95 M230.75 769.10 L253.60 791.95 M235.65 769.10 L258.50 791.95 M240.55 769.10 L263.40 791.95 M245.45 769.10 L268.30 791.95 M250.35 769.10 L273.20 791.95 M255.25 769.10 L278.10 791.95 M260.15 769.10 L283.00 791.95 M265.05 769.10 L287.90 791.95 M269.95 769.10 L292.80 791.95 M274.85 769.10 L297.70 791.95 M279.75 769.10 L302.60 791.95 M284.65 769.10 L307.50 791.95 M289.55 769.10 L312.40 791.95 M294.45 769.10 L317.30 791.95 M299.35 769.10 L322.20 791.95 M304.25 769.10 L327.10 791.95 M309.15 769.10 L332.00 791.95 M314.05 769.10 L336.90 791.95 M318.95 769.10 L341.80 791.95 M323.85 769.10 L346.70 791.95 M328.75 769.10 L351.60 791.95 M333.65 769.10 L356.50 791.95 M338.55 769.10 L361.40 791.95 M343.45 769.10 L366.30 791.95 M348.35 769.10 L371.20 791.95 M353.25 769.10 L376.10 791.95 M358.15 769.10 L381.00 791.95 M363.05 769.10 L385.90 791.95 M367.95 769.10 L390.80 791.95 M372.85 769.10 L395.70 791.95 M377.75 769.10 L400.60 791.95 M382.65 769.10 L405.50 791.95 M387.55 769.10 L410.40 791.95 M392.45 769.10 L415.30 791.95 M397.35 769.10 L420.20 791.95 M402.25 769.10 L425.10 791.95 M407.15 769.10 L430.00 791.95 M412.05 769.10 L434.90 791.95 M416.95 769.10 L439.80 791.95 M421.85 769.10 L444.70 791.95 M426.75 769.10 L449.60 791.95 M431.65 769.10 L454.50 791.95 M436.55 769.10 L459.40 791.95 M441.45 769.10 L464.30 791.95 M446.35 769.10 L469.20 791.95 M451.25 769.10 L474.10 791.95 M456.15 769.10 L479.00 791.95 M461.05 769.10 L483.90 791.95 M465.95 769.10 L488.80 791.95 M470.85 769.10 L493.70 791.95 M475.75 769.10 L498.60 791.95 M480.65 769.10 L503.50 791.95 M485.55 769.10 L508.40 791.95 M490.45 769.10 L513.30 791.95 M495.35 769.10 L518.20 791.95 M500.25 769.10 L523.10 791.95 M505.15 769.10 L528.00 791.95 M510.05 769.10 L532.90 791.95 M514.95 769.10 L537.80 791.95 M519.85 769.10 L542.70 791.95 M524.75 769.10 L547.60 791.95 M529.65 769.10 L552.50 791.95 M534.55 769.10 L557.40 791.95 M539.45 769.10 L562.30 791.95 M544.35 769.10 L567.20 791.95 M549.25 769.10 L572.10 791.95 M554.15 769.10 L577.00 791.95 M559.05 769.10 L581.90 791.95 M563.95 769.10 L586.80 791.95 M568.85 769.10 L591.70 791.95 M573.75 769.10 L596.60 791.95 M578.65 769.10 L601.50 791.95 M583.55 769.10 L606.40 791.95 M588.45 769.10 L611.30 791.95 M593.35 769.10 L616.20 791.95 M598.25 769.10 L621.10 791.95 M603.15 769.10 L626.00 791.95 M608.05 769.10 L630.90 791.95 M612.95 769.10 L635.80 791.95 M617.85 769.10 L640.70 791.95 M622.75 769.10 L645.60 791.95 M627.65 769.10 L650.50 791.95 M632.55 769.10 L655.40 791.95 M637.45 769.10 L660.30 791.95 M642.35 769.10 L665.20 791.95 M647.25 769.10 L670.10 791.95 M652.15 769.10 L675.00 791.95 M657.05 769.10 L679.90 791.95 M661.95 769.10 L684.80 791.95 M666.85 769.10 L689.70 791.95 M671.75 769.10 L694.60 791.95 M676.65 769.10 L699.50 791.95" stroke="#0000ff" stroke-width="1.0" fill="none"/></g>
<path d="M99.1 772.1 L99.5 772.1 L100.7 772.1 L102.2 772.1 L103.8 772.1 L105.4 772.1 L107.0 772.1 L108.5 772.1 L110.1 772.1 L110.3 772.1 L111.6 775.8 L111.7 776.1 L113.3 781.2 L113.8 783.4 L114.8 785.3 L116.0 788.2 L116.4 788.2 L118.0 788.5 L118.6 789.0 L119.6 788.0 L121.1 787.5 L121.3 787.2 L122.7 786.1 L123.9 784.8 L124.3 784.3 L125.8 783.3 L126.5 783.0 L127.4 782.7 L129.0 781.7 L130.0 780.9 L130.6 780.9 L132.2 780.4 L133.7 780.4 L134.4 779.8 L135.3 779.7 L136.9 779.0 L138.4 779.0 L138.8 778.6 L140.0 778.3 L141.6 778.5 L143.2 778.5 L143.2 778.1 L144.7 777.8 L146.3 778.0 L147.5 777.7 L147.9 777.2 L149.5 777.5 L151.0 776.6 L152.0 775.9 L152.6 776.0 L154.2 775.7 L155.0 775.8 L155.8 775.8 L157.3 775.3 L158.0 775.0 L158.9 775.8 L160.5 776.2 L162.0 776.5 L162.1 776.5 L163.6 777.8 L165.0 779.6 L165.2 778.9 L166.8 778.2 L167.5 777.0 L168.3 776.9 L169.9 776.1 L170.3 776.4 L171.5 776.0 L173.1 776.3 L174.6 776.5 L176.2 776.7 L177.3 776.7 L177.8 776.9 L179.4 776.6 L180.9 775.8 L182.5 775.5 L182.6 775.4 L184.1 775.6 L185.7 775.4 L187.2 775.3 L188.8 775.5 L190.4 775.6 L191.9 775.9 L193.5 775.6 L195.1 775.4 L196.7 775.3 L198.2 775.3 L199.8 775.2 L200.0 775.3 L201.4 775.5 L203.0 775.3 L204.5 775.1 L206.1 775.5 L207.7 775.3 L209.3 775.1 L210.8 775.1 L212.4 775.2 L214.0 775.1 L215.0 775.2 L215.6 775.2 L217.1 775.4 L218.7 775.2 L220.3 775.4 L221.8 775.2 L223.4 775.1 L225.0 775.5 L226.6 775.4 L228.2 775.2 L229.7 775.1 L231.3 775.0 L232.9 775.4 L234.4 775.3 L236.0 775.1 L237.6 775.5 L239.2 775.2 L240.7 775.5 L242.3 775.2 L243.9 775.3 L245.5 775.2 L247.0 775.3 L248.6 775.0 L250.0 775.7 L250.2 775.3 L251.8 775.1 L253.3 775.2 L254.9 775.4 L256.5 775.1 L258.1 775.3 L259.6 775.3 L261.2 775.2 L262.8 775.1 L264.4 775.2 L265.9 775.6 L267.5 775.2 L269.1 775.4 L270.6 775.4 L272.2 775.1 L273.8 775.4 L275.4 775.3 L276.9 775.0 L278.5 775.0 L280.1 775.0 L281.7 775.0 L283.2 775.5 L284.8 775.2 L286.4 775.3 L287.9 775.2 L289.5 775.0 L291.1 775.5 L292.7 775.2 L294.2 775.1 L295.8 775.1 L297.4 775.0 L299.0 775.2 L300.0 774.9 L300.5 775.0 L302.1 775.2 L302.5 775.3 L303.7 777.2 L304.0 777.3 L305.3 775.6 L305.5 775.6 L306.8 775.3 L308.4 775.2 L310.0 775.5 L311.6 775.1 L313.1 775.4 L314.7 775.1 L315.5 775.0 L316.3 777.4 L317.3 780.4 L317.9 779.0 L319.0 775.4 L319.4 775.1 L321.0 775.0 L322.6 775.2 L324.1 775.3 L325.7 775.3 L327.3 775.0 L328.9 775.2 L330.4 775.4 L332.0 775.0 L333.6 775.1 L335.2 775.0 L336.7 774.9 L338.3 775.1 L339.9 775.0 L341.5 775.4 L343.0 775.4 L344.6 775.0 L346.2 775.2 L347.8 775.5 L349.3 774.9 L350.9 775.1 L351.0 775.2 L352.5 776.4 L353.4 776.8 L354.1 776.5 L355.6 775.6 L356.0 775.0 L357.2 775.2 L358.8 775.1 L360.4 774.9 L361.9 775.0 L363.5 775.0 L365.1 775.4 L366.6 775.2 L368.2 775.3 L369.8 775.2 L371.4 775.1 L372.9 775.1 L374.5 774.9 L376.1 775.0 L377.7 775.1 L379.2 774.9 L380.8 775.6 L382.4 775.0 L383.9 774.9 L385.5 775.0 L387.1 775.1 L388.7 774.9 L390.2 775.2 L391.8 775.1 L393.4 775.0 L395.0 775.2 L396.5 775.1 L398.1 774.9 L399.7 775.1 L401.3 775.0 L402.8 775.0 L404.4 775.4 L406.0 775.3 L407.6 775.3 L409.1 775.0 L410.7 775.0 L412.0 775.2 L412.3 775.4 L413.9 776.2 L414.7 777.1 L415.4 776.3 L417.0 775.0 L418.6 775.5 L420.1 775.3 L421.7 775.2 L423.3 775.0 L424.9 774.9 L426.4 775.4 L428.0 775.4 L429.6 775.2 L431.2 775.1 L432.7 775.2 L434.3 775.1 L435.0 775.3 L435.9 776.7 L437.5 779.7 L437.5 779.8 L439.0 777.5 L440.0 775.7 L440.6 775.8 L442.2 776.1 L443.5 776.2 L443.8 776.6 L445.3 780.2 L446.0 781.5 L446.9 779.5 L448.5 775.3 L448.5 775.1 L450.1 775.2 L451.6 775.1 L453.2 775.6 L454.8 775.4 L456.4 775.2 L457.9 775.1 L459.5 775.2 L461.1 775.3 L462.6 775.6 L464.2 775.4 L465.8 775.3 L467.4 775.1 L468.9 775.5 L470.5 775.7 L472.1 775.1 L473.7 775.2 L475.2 775.1 L476.8 775.2 L478.4 775.1 L479.9 775.2 L481.5 775.2 L483.1 775.1 L484.7 775.3 L486.2 775.2 L487.8 775.1 L489.4 775.1 L491.0 775.0 L492.5 774.9 L494.1 775.3 L495.7 775.0 L497.3 775.0 L498.8 775.5 L500.0 775.1 L500.4 775.3 L502.0 775.0 L503.6 775.4 L505.1 775.5 L506.7 775.0 L508.3 775.2 L509.9 775.0 L511.4 775.0 L513.0 775.0 L514.6 775.3 L516.1 775.3 L517.7 775.4 L519.3 775.3 L520.9 775.1 L522.4 775.1 L524.0 775.1 L525.6 775.4 L527.2 775.0 L528.7 774.9 L530.3 775.1 L531.9 775.1 L533.5 775.4 L535.0 775.2 L536.6 775.1 L538.2 775.1 L539.8 774.9 L541.3 775.1 L542.9 775.0 L544.5 775.0 L546.0 775.0 L547.6 774.9 L549.2 775.0 L550.8 775.7 L552.4 775.1 L553.9 775.0 L555.5 774.9 L557.1 774.9 L558.6 775.3 L560.2 775.1 L561.8 775.1 L563.4 774.9 L564.9 775.1 L566.5 775.0 L568.1 774.9 L569.7 775.0 L571.2 775.1 L572.8 775.2 L574.4 775.0 L576.0 775.1 L577.5 774.8 L579.1 775.1 L580.7 775.0 L582.2 775.1 L583.8 775.0 L585.4 775.3 L587.0 775.1 L588.5 775.0 L590.1 775.3 L591.7 775.0 L593.3 775.0 L594.8 775.3 L596.4 774.9 L598.0 775.2 L599.6 774.9 L600.0 775.2 L601.1 775.0 L602.7 775.1 L604.3 775.2 L605.9 775.1 L607.4 775.3 L609.0 775.3 L610.6 775.2 L612.1 774.9 L613.7 775.0 L615.3 775.0 L616.9 775.1 L618.0 774.9 L618.4 775.3 L620.0 775.7 L621.6 776.0 L622.0 776.1 L623.2 775.8 L624.7 775.6 L626.3 775.2 L627.9 774.9 L628.0 775.1 L629.5 774.9 L631.0 775.1 L632.6 774.9 L634.2 774.8 L635.8 775.1 L637.3 775.1 L638.0 775.2 L638.9 775.6 L640.5 776.4 L641.0 776.8 L642.0 775.8 L643.0 775.3 L643.6 775.1 L645.2 775.3 L646.8 774.8 L648.4 775.6 L649.9 774.8 L651.5 774.9 L653.1 775.1 L654.6 775.5 L656.2 775.1 L657.8 775.0 L659.4 774.8 L660.9 774.9 L662.5 775.0 L664.1 774.9 L665.7 774.9 L667.2 774.8 L668.8 774.8 L670.4 774.9 L672.0 775.0 L673.5 774.8 L675.1 774.7 L675.5 774.8" fill="none" stroke="#0000ff" stroke-width="3.8" stroke-linejoin="round"/>
<path d="M99.1 774.4 L99.5 774.4 L100.7 774.4 L102.2 774.4 L103.8 774.4 L105.4 774.4 L107.0 774.4 L108.5 774.4 L110.1 774.4 L110.3 774.4 L111.6 777.0 L111.7 777.4 L113.3 784.4 L113.8 786.4 L114.8 789.8 L116.0 792.7 L116.4 792.5 L118.0 794.0 L118.6 794.4 L119.6 794.3 L121.1 793.7 L121.3 793.9 L122.7 792.2 L123.9 790.8 L124.3 790.2 L125.8 787.3 L126.5 785.7 L127.4 785.2 L129.0 784.3 L130.0 784.0 L130.6 783.6 L132.2 783.0 L133.7 782.6 L134.4 782.3 L135.3 782.3 L136.9 782.0 L138.4 781.7 L138.8 781.5 L140.0 781.8 L141.6 781.8 L143.2 781.4 L143.2 781.4 L144.7 781.3 L146.3 781.2 L147.5 780.7 L147.9 780.5 L149.5 779.8 L151.0 779.4 L152.0 778.7 L152.6 778.7 L154.2 778.3 L155.0 778.5 L155.8 778.3 L157.3 778.3 L158.0 778.1 L158.9 777.9 L160.5 778.6 L162.0 779.1 L162.1 778.8 L163.6 781.2 L165.0 782.4 L165.2 782.2 L166.8 780.5 L167.5 780.0 L168.3 779.6 L169.9 779.0 L170.3 778.6 L171.5 778.9 L173.1 779.0 L174.6 779.1 L176.2 779.9 L177.3 779.3 L177.8 779.2 L179.4 778.6 L180.9 778.6 L182.5 777.6 L182.6 777.3 L184.1 777.8 L185.7 777.7 L187.2 777.3 L188.8 777.1 L190.4 777.1 L191.9 777.2 L193.5 777.2 L195.1 777.2 L196.7 776.9 L198.2 776.9 L199.8 777.0 L200.0 776.8 L201.4 776.8 L203.0 776.7 L204.5 777.6 L206.1 776.6 L207.7 777.2 L209.3 776.2 L210.8 776.3 L212.4 776.1 L214.0 776.3 L215.0 776.0 L215.6 776.0 L217.1 776.3 L218.7 776.0 L220.3 776.3 L221.8 776.0 L223.4 776.4 L225.0 776.2 L226.6 776.0 L228.2 776.1 L229.7 776.3 L231.3 775.9 L232.9 775.9 L234.4 776.0 L236.0 775.8 L237.6 776.1 L239.2 776.4 L240.7 776.1 L242.3 776.0 L243.9 776.3 L245.5 776.4 L247.0 776.0 L248.6 775.9 L250.0 775.7 L250.2 775.8 L251.8 775.8 L253.3 775.8 L254.9 776.0 L256.5 775.8 L258.1 776.0 L259.6 775.8 L261.2 775.8 L262.8 775.6 L264.4 776.7 L265.9 776.0 L267.5 775.6 L269.1 775.8 L270.6 775.5 L272.2 776.0 L273.8 775.9 L275.4 775.8 L276.9 775.8 L278.5 775.8 L280.1 775.5 L281.7 775.6 L283.2 775.7 L284.8 776.1 L286.4 775.8 L287.9 775.7 L289.5 775.5 L291.1 775.7 L292.7 775.9 L294.2 775.6 L295.8 775.8 L297.4 776.2 L299.0 775.5 L300.0 776.1 L300.5 775.7 L302.1 775.8 L302.5 775.5 L303.7 778.7 L304.0 779.3 L305.3 776.4 L305.5 775.7 L306.8 775.6 L308.4 775.7 L310.0 775.8 L311.6 775.9 L313.1 775.7 L314.7 775.9 L315.5 775.8 L316.3 778.8 L317.3 783.5 L317.9 780.5 L319.0 775.7 L319.4 775.9 L321.0 775.7 L322.6 775.8 L324.1 775.5 L325.7 775.5 L327.3 775.9 L328.9 775.5 L330.4 775.6 L332.0 775.9 L333.6 775.5 L335.2 775.5 L336.7 775.9 L338.3 775.5 L339.9 775.9 L341.5 775.9 L343.0 775.7 L344.6 775.8 L346.2 775.6 L347.8 775.5 L349.3 775.7 L350.9 775.6 L351.0 775.6 L352.5 777.9 L353.4 778.8 L354.1 778.0 L355.6 776.0 L356.0 775.7 L357.2 775.5 L358.8 775.7 L360.4 775.8 L361.9 776.3 L363.5 775.7 L365.1 775.7 L366.6 775.4 L368.2 775.5 L369.8 775.5 L371.4 775.9 L372.9 776.0 L374.5 775.4 L376.1 776.0 L377.7 775.6 L379.2 775.5 L380.8 775.6 L382.4 775.8 L383.9 775.5 L385.5 775.6 L387.1 775.7 L388.7 775.7 L390.2 776.0 L391.8 775.9 L393.4 775.4 L395.0 775.5 L396.5 775.5 L398.1 775.7 L399.7 775.7 L401.3 775.6 L402.8 775.5 L404.4 775.7 L406.0 775.5 L407.6 776.1 L409.1 775.6 L410.7 775.4 L412.0 775.5 L412.3 776.1 L413.9 777.5 L414.7 778.4 L415.4 777.4 L417.0 776.3 L418.6 776.0 L420.1 775.5 L421.7 775.5 L423.3 775.8 L424.9 775.5 L426.4 775.6 L428.0 775.9 L429.6 775.5 L431.2 775.5 L432.7 775.4 L434.3 775.5 L435.0 775.9 L435.9 777.8 L437.5 781.6 L437.5 781.7 L439.0 779.0 L440.0 776.9 L440.6 776.9 L442.2 776.7 L443.5 777.1 L443.8 777.6 L445.3 781.9 L446.0 784.2 L446.9 781.2 L448.5 776.1 L448.5 775.7 L450.1 776.3 L451.6 775.7 L453.2 775.7 L454.8 776.0 L456.4 775.8 L457.9 775.7 L459.5 775.6 L461.1 775.9 L462.6 775.8 L464.2 776.0 L465.8 775.7 L467.4 775.6 L468.9 776.0 L470.5 775.7 L472.1 775.7 L473.7 775.5 L475.2 775.6 L476.8 776.0 L478.4 775.7 L479.9 775.5 L481.5 775.9 L483.1 775.8 L484.7 775.7 L486.2 775.9 L487.8 776.1 L489.4 775.8 L491.0 775.4 L492.5 776.3 L494.1 775.4 L495.7 775.5 L497.3 775.5 L498.8 775.4 L500.0 775.4 L500.4 776.0 L502.0 775.6 L503.6 775.6 L505.1 775.4 L506.7 776.3 L508.3 775.5 L509.9 775.7 L511.4 775.5 L513.0 775.3 L514.6 775.7 L516.1 775.5 L517.7 775.3 L519.3 775.3 L520.9 775.6 L522.4 775.8 L524.0 775.5 L525.6 775.9 L527.2 775.4 L528.7 775.3 L530.3 775.7 L531.9 775.8 L533.5 775.4 L535.0 775.4 L536.6 775.3 L538.2 775.5 L539.8 775.3 L541.3 775.3 L542.9 775.4 L544.5 775.4 L546.0 775.5 L547.6 775.8 L549.2 775.3 L550.8 775.5 L552.4 776.2 L553.9 776.0 L555.5 775.4 L557.1 775.6 L558.6 775.3 L560.2 775.6 L561.8 775.3 L563.4 775.6 L564.9 775.5 L566.5 775.3 L568.1 775.8 L569.7 775.5 L571.2 775.8 L572.8 775.9 L574.4 775.5 L576.0 775.3 L577.5 775.4 L579.1 775.4 L580.7 775.5 L582.2 775.4 L583.8 775.5 L585.4 775.7 L587.0 775.4 L588.5 775.2 L590.1 775.9 L591.7 775.5 L593.3 775.5 L594.8 775.4 L596.4 775.7 L598.0 775.3 L599.6 775.4 L600.0 775.4 L601.1 775.5 L602.7 775.9 L604.3 775.3 L605.9 775.4 L607.4 776.0 L609.0 775.3 L610.6 775.7 L612.1 775.3 L613.7 775.6 L615.3 775.3 L616.9 775.6 L618.0 775.2 L618.4 775.5 L620.0 776.4 L621.6 776.9 L622.0 776.7 L623.2 776.7 L624.7 776.1 L626.3 775.7 L627.9 775.4 L628.0 775.7 L629.5 775.4 L631.0 775.6 L632.6 775.7 L634.2 776.0 L635.8 775.4 L637.3 775.5 L638.0 775.6 L638.9 775.8 L640.5 776.9 L641.0 777.3 L642.0 776.4 L643.0 775.5 L643.6 775.4 L645.2 775.6 L646.8 775.7 L648.4 775.5 L649.9 775.6 L651.5 775.5 L653.1 775.6 L654.6 775.3 L656.2 775.4 L657.8 775.3 L659.4 775.3 L660.9 775.2 L662.5 775.7 L664.1 775.3 L665.7 775.2 L667.2 775.5 L668.8 775.1 L670.4 775.6 L672.0 775.3 L673.5 775.5 L675.1 775.4 L675.5 775.2" fill="none" stroke="#add8e6" stroke-width="2.3" stroke-linejoin="round"/>
</g>
<path d="M98.8 772.2 H675.5" stroke="#000" stroke-width="2.4"/>
<rect x="505.2" y="368.8" width="170.3" height="164.2" fill="#fff" stroke="#000" stroke-width="3"/>
<path d="M515 390.8 H551" stroke="#000" stroke-width="4.8"/>
<text x="569.2" y="398.6" font-size="22" textLength="14.4" lengthAdjust="spacingAndGlyphs">K</text>
<path d="M515 414.9 H551" stroke="#bebebe" stroke-width="2.9"/>
<text x="569.2" y="422.8" font-size="22" textLength="41.5" lengthAdjust="spacingAndGlyphs">K+S</text>
<path d="M515 439.1 H551" stroke="#ff0000" stroke-width="4.8"/>
<text x="569.2" y="446.9" font-size="22" textLength="68.7" lengthAdjust="spacingAndGlyphs">K+S+A</text>
<path d="M515 463.2 H551" stroke="#ff8080" stroke-width="2.9"/>
<text x="569.2" y="471.1" font-size="22" textLength="95.8" lengthAdjust="spacingAndGlyphs">K+S+A+B</text>
<path d="M515 487.4 H551" stroke="#0000ff" stroke-width="4.8"/>
<text x="569.2" y="495.2" font-size="22" textLength="16.2" lengthAdjust="spacingAndGlyphs">C</text>
<path d="M515 511.6 H551" stroke="#add8e6" stroke-width="2.9"/>
<text x="569.2" y="519.4" font-size="22" textLength="44.0" lengthAdjust="spacingAndGlyphs">C+D</text>
<rect x="98.8" y="368.8" width="576.7" height="431.9" fill="none" stroke="#000" stroke-width="3.3"/>
<path d="M98.8 800.7 V809.7 M98.8 368.8 V359.8 M147.6 800.7 V809.7 M147.6 368.8 V359.8 M194.9 800.7 V809.7 M194.9 368.8 V359.8 M243.8 800.7 V809.7 M243.8 368.8 V359.8 M291.0 800.7 V809.7 M291.0 368.8 V359.8 M339.9 800.7 V809.7 M339.9 368.8 V359.8 M388.7 800.7 V809.7 M388.7 368.8 V359.8 M436.0 800.7 V809.7 M436.0 368.8 V359.8 M484.8 800.7 V809.7 M484.8 368.8 V359.8 M532.1 800.7 V809.7 M532.1 368.8 V359.8 M581.0 800.7 V809.7 M581.0 368.8 V359.8 M629.8 800.7 V809.7 M629.8 368.8 V359.8 M675.5 800.7 V809.7 M675.5 368.8 V359.8 M98.8 772.1 H89.3 M675.5 772.1 H685.0 M98.8 714.5 H89.3 M675.5 714.5 H685.0 M98.8 656.9 H89.3 M675.5 656.9 H685.0 M98.8 599.3 H89.3 M675.5 599.3 H685.0 M98.8 541.7 H89.3 M675.5 541.7 H685.0 M98.8 484.1 H89.3 M675.5 484.1 H685.0 M98.8 426.5 H89.3 M675.5 426.5 H685.0 M98.8 368.9 H89.3 M675.5 368.9 H685.0" stroke="#000" stroke-width="1.3" fill="none"/>
<path d="M581.0 368.8 V342.5 M581.0 800.7 V827" stroke="#000" stroke-width="1" fill="none"/>
<text transform="translate(122.8 831.5) scale(0.965 1)" font-size="22.3" text-anchor="middle">03</text>
<text transform="translate(170.9 831.5) scale(0.965 1)" font-size="22.3" text-anchor="middle">04</text>
<text transform="translate(218.9 831.5) scale(0.965 1)" font-size="22.3" text-anchor="middle">05</text>
<text transform="translate(267.0 831.5) scale(0.965 1)" font-size="22.3" text-anchor="middle">06</text>
<text transform="translate(315.1 831.5) scale(0.965 1)" font-size="22.3" text-anchor="middle">07</text>
<text transform="translate(363.9 831.5) scale(0.965 1)" font-size="22.3" text-anchor="middle">08</text>
<text transform="translate(412.0 831.5) scale(0.965 1)" font-size="22.3" text-anchor="middle">09</text>
<text transform="translate(460.0 831.5) scale(0.965 1)" font-size="22.3" text-anchor="middle">10</text>
<text transform="translate(508.1 831.5) scale(0.965 1)" font-size="22.3" text-anchor="middle">11</text>
<text transform="translate(556.1 831.5) scale(0.965 1)" font-size="22.3" text-anchor="middle">12</text>
<text transform="translate(605.0 831.5) scale(0.965 1)" font-size="22.3" text-anchor="middle">01</text>
<text transform="translate(652.3 831.5) scale(0.965 1)" font-size="22.3" text-anchor="middle">02</text>
<text transform="translate(83.4 779.9) scale(0.965 1)" font-size="22.3" text-anchor="end">0</text>
<text transform="translate(83.4 722.3) scale(0.965 1)" font-size="22.3" text-anchor="end">1000</text>
<text transform="translate(83.4 664.7) scale(0.965 1)" font-size="22.3" text-anchor="end">2000</text>
<text transform="translate(83.4 607.1) scale(0.965 1)" font-size="22.3" text-anchor="end">3000</text>
<text transform="translate(83.4 549.5) scale(0.965 1)" font-size="22.3" text-anchor="end">4000</text>
<text transform="translate(83.4 491.9) scale(0.965 1)" font-size="22.3" text-anchor="end">5000</text>
<text transform="translate(83.4 434.3) scale(0.965 1)" font-size="22.3" text-anchor="end">6000</text>
<text transform="translate(83.4 376.7) scale(0.965 1)" font-size="22.3" text-anchor="end">7000</text>
<text x="105.6" y="399" font-size="31">b)</text>
<text x="338.2" y="857" font-size="26.2" text-anchor="middle">2011</text>
<text transform="translate(23.2 584) rotate(-90)" font-size="30" text-anchor="middle" textLength="228.5" lengthAdjust="spacingAndGlyphs"># of events [/day]</text>
</svg>
</body></html>
